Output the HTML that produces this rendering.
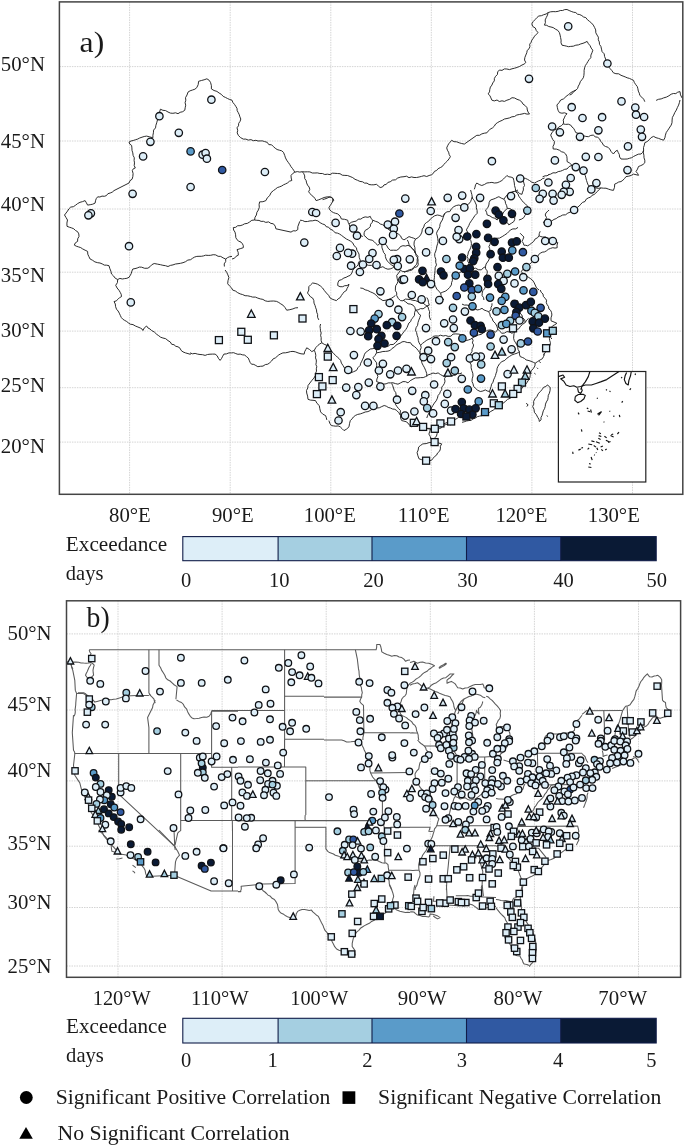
<!DOCTYPE html>
<html><head><meta charset="utf-8"><title>Figure</title>
<style>
html,body{margin:0;padding:0;background:#fff}
svg{display:block}
.t text{font-family:"Liberation Serif",serif;fill:#1a1a1a}
.b{fill:none;stroke:#222;stroke-width:0.95;stroke-linejoin:round}
.bb{fill:none;stroke:#5a5a5a;stroke-width:1.05;stroke-linejoin:round}
.m{stroke:#101216;stroke-width:1.3}
</style></head><body>
<svg width="685" height="1147" viewBox="0 0 685 1147">
<rect width="685" height="1147" fill="#fff"/>
<!-- panel a -->
<g stroke="#d4d4d4" stroke-width="1" stroke-dasharray="1.5 1" fill="none">
<line x1="129.6" y1="1.9" x2="129.6" y2="494.3"/>
<line x1="230.2" y1="1.9" x2="230.2" y2="494.3"/>
<line x1="330.8" y1="1.9" x2="330.8" y2="494.3"/>
<line x1="431.3" y1="1.9" x2="431.3" y2="494.3"/>
<line x1="531.9" y1="1.9" x2="531.9" y2="494.3"/>
<line x1="632.5" y1="1.9" x2="632.5" y2="494.3"/>
<line x1="59.4" y1="66.6" x2="682.8" y2="66.6"/>
<line x1="59.4" y1="141" x2="682.8" y2="141"/>
<line x1="59.4" y1="209" x2="682.8" y2="209"/>
<line x1="59.4" y1="272.2" x2="682.8" y2="272.2"/>
<line x1="59.4" y1="331.1" x2="682.8" y2="331.1"/>
<line x1="59.4" y1="387.7" x2="682.8" y2="387.7"/>
<line x1="59.4" y1="442.1" x2="682.8" y2="442.1"/>
</g>
<g class="t">
<text x="129.9" y="521.9" font-size="21" text-anchor="middle" textLength="41.8" lengthAdjust="spacingAndGlyphs">80°E</text>
<text x="232.8" y="521.9" font-size="21" text-anchor="middle" textLength="41.8" lengthAdjust="spacingAndGlyphs">90°E</text>
<text x="329.8" y="521.9" font-size="21" text-anchor="middle" textLength="52" lengthAdjust="spacingAndGlyphs">100°E</text>
<text x="423.7" y="521.9" font-size="21" text-anchor="middle" textLength="52" lengthAdjust="spacingAndGlyphs">110°E</text>
<text x="521.4" y="521.9" font-size="21" text-anchor="middle" textLength="52" lengthAdjust="spacingAndGlyphs">120°E</text>
<text x="613.8" y="521.9" font-size="21" text-anchor="middle" textLength="52" lengthAdjust="spacingAndGlyphs">130°E</text>
<text x="0.8" y="70.6" font-size="21" text-anchor="start" textLength="44.2" lengthAdjust="spacingAndGlyphs">50°N</text>
<text x="0.8" y="148.4" font-size="21" text-anchor="start" textLength="44.2" lengthAdjust="spacingAndGlyphs">45°N</text>
<text x="0.8" y="210.8" font-size="21" text-anchor="start" textLength="44.2" lengthAdjust="spacingAndGlyphs">40°N</text>
<text x="0.8" y="282.3" font-size="21" text-anchor="start" textLength="44.2" lengthAdjust="spacingAndGlyphs">35°N</text>
<text x="0.8" y="337.2" font-size="21" text-anchor="start" textLength="44.2" lengthAdjust="spacingAndGlyphs">30°N</text>
<text x="0.8" y="392.3" font-size="21" text-anchor="start" textLength="44.2" lengthAdjust="spacingAndGlyphs">25°N</text>
<text x="0.8" y="453.4" font-size="21" text-anchor="start" textLength="44.2" lengthAdjust="spacingAndGlyphs">20°N</text>
</g>
<g class="b">
<polyline points="68.8,208.9 70.7,207.1 73.4,206.7 75.6,205.2 77.6,203.6 80.0,202.3 82.6,201.6 85.1,200.6 86.4,202.8 87.6,205.1 90.2,204.7 92.7,204.2 95.1,203.1 95.5,200.8 96.2,198.7 97.7,196.8 99.9,197.0 102.0,196.1 104.3,196.3 106.4,195.6 107.9,193.7 110.2,193.0 112.3,192.1 114.0,190.6 129.0,183.0 130.0,180.7 132.1,179.2 132.8,176.7 133.1,173.6 132.3,170.5 133.4,168.7 135.3,168.0 134.2,165.6 134.5,162.9 134.1,160.4 134.3,157.8 133.1,155.4 132.8,152.9 132.0,150.4 131.9,147.9 131.6,145.4 129.8,144.1 129.0,142.1 131.0,141.0 133.2,140.5 135.3,139.8 137.6,139.1 139.7,138.0 142.0,137.2 144.2,136.5 146.6,136.1 149.8,136.9 152.9,137.8 152.9,135.3 153.4,132.8 153.6,130.1 155.5,127.9 155.9,125.3 156.7,122.8 160.4,109.2 162.9,110.3 165.6,110.6 168.0,112.0 170.4,113.1 172.9,113.3 175.6,112.8 178.0,113.7 180.2,112.3 182.7,111.7 184.8,110.2 185.2,107.7 185.7,105.2 185.1,102.7 185.8,100.2 185.5,97.7 187.0,95.0 188.0,92.1 190.1,90.8 192.5,90.0 194.9,89.2 196.8,87.6 198.2,84.6 198.6,81.3 201.4,80.5 204.1,79.8 206.9,78.8 209.2,80.3 210.6,82.6 211.4,85.7 211.4,88.9 214.0,90.5 216.9,91.4 219.1,93.0 221.4,94.4 223.2,96.4 225.4,97.4 227.5,98.5 229.7,99.5 232.0,100.2"/>
<polyline points="68.8,209.0 67.5,211.1 66.0,213.1 64.5,215.0 66.0,217.5 67.5,220.0 66.9,223.1 67.0,226.3 69.3,227.2 71.6,227.9 73.8,228.8 75.5,230.5 77.6,231.7 78.8,233.9 79.0,236.5 77.7,238.8 77.6,241.4 75.4,242.8 74.3,245.1 76.3,246.2 78.5,246.9 80.7,247.6 82.6,248.9 85.1,250.2 87.6,251.4 87.8,254.2 88.9,256.6 90.1,259.0 92.6,260.3 94.9,261.9 97.7,262.7 100.0,263.0 102.2,263.9 104.3,265.1 106.7,265.2 109.0,265.7 109.8,268.5 110.9,271.2 111.5,274.0 113.5,275.9 115.2,278.2 117.7,279.5"/>
<polyline points="117.7,279.5 119.9,278.4 122.3,279.0 124.6,278.6 126.9,278.3 129.0,277.3 130.3,275.4 131.3,273.3 131.9,271.1 132.8,269.0 135.0,268.6 137.2,268.0 139.3,267.1 141.6,267.2 144.7,268.3 147.9,268.2 150.0,266.7 151.8,264.7 154.2,263.5 157.3,264.1 160.4,264.7 162.9,265.3 165.5,265.7 168.0,266.5 170.4,265.4 173.0,264.9 175.5,264.0 178.0,263.7 180.5,263.3 183.0,262.7 185.5,261.7 187.8,260.1 190.6,259.7 192.5,258.3 194.5,257.1 196.8,256.4 199.0,256.3 201.3,256.3 203.5,255.9 205.6,255.2 208.2,255.4 210.7,255.3 213.2,254.7 215.7,254.9 218.1,256.3 220.7,256.4 223.1,257.9 225.7,259.0 227.6,257.6 229.6,256.7 232.0,256.4"/>
<polyline points="117.7,279.5 117.4,282.7 115.7,285.3 117.1,288.0 119.0,290.3 120.2,292.3 121.2,294.3 121.5,296.6 119.5,297.7 117.9,299.3 116.2,300.9 114.0,301.6 115.3,304.0 115.6,306.7 116.5,309.2 118.1,311.0 119.3,313.2 120.3,315.4 121.3,317.5 122.8,319.2 124.7,320.4 126.7,321.5 128.4,322.9 130.3,324.2 133.0,324.6 135.4,326.0 137.9,327.0 140.3,328.0 141.9,328.9 142.9,330.5 144.3,327.9 146.6,326.0 147.9,327.9 150.0,329.0 151.6,330.5 154.4,332.1 156.7,334.3 158.7,335.7 160.6,337.2 162.9,338.0 165.7,338.7 168.0,340.6 170.3,342.0 171.7,344.3 174.0,344.7 175.8,346.3 178.0,346.8 180.0,348.2 181.1,350.4 183.0,351.9 185.5,352.9 188.0,353.6 190.6,354.4"/>
<polyline points="225.7,259.0 225.7,261.5 224.2,263.9 224.4,266.5"/>
<polyline points="232.0,100.2 232.9,102.5 234.5,104.4 235.8,106.4 237.0,108.4 237.2,110.7 238.3,112.7 239.3,114.8 239.9,116.9 240.8,119.0 240.1,121.3 238.7,123.3 238.5,125.8 237.0,127.8 237.7,130.3 237.2,132.9 238.3,135.3 240.5,137.6 243.3,139.1 245.8,139.1 248.3,140.1 250.9,139.6 253.3,140.7 255.9,140.3 258.0,141.0 260.3,140.9 262.5,140.9 264.6,141.6 267.2,142.3 268.8,144.6 271.6,144.8 273.4,146.6 275.2,148.2 277.1,149.5 279.4,150.2 281.7,150.8 283.5,152.4 284.7,155.4 285.5,157.9 286.7,160.2 288.2,162.3 289.7,164.4 291.0,166.7 292.4,168.4 293.7,170.3 294.8,172.2"/>
<polyline points="294.8,172.2 297.3,171.6 299.8,172.1 302.3,171.7 304.8,171.9 307.4,171.8 309.9,171.9 312.3,173.0 314.9,173.0 317.4,172.9 319.9,173.5 322.4,173.5 324.8,174.5 327.4,174.2 330.0,174.6 332.4,173.2 334.9,173.3 337.4,173.5 340.0,173.7 342.3,175.2 344.9,175.4 347.5,175.5 350.1,176.5 352.7,177.6 355.0,179.3 357.5,180.3 359.9,181.4 362.6,181.8 364.6,183.1 367.0,183.1 369.0,184.5 371.3,184.8 373.9,184.8 376.4,184.3 378.3,185.9 380.1,187.5 382.5,187.0 384.0,184.9 386.3,184.4 387.9,182.4 390.2,181.8 392.5,180.1 395.5,179.8 397.7,178.0 400.8,177.0 404.0,176.7"/>
<polyline points="294.8,172.2 292.6,173.6 291.0,175.5 291.2,178.0 291.8,180.5 289.5,181.2 287.7,182.8 285.6,183.9 283.5,184.8 281.7,186.0 279.7,186.8 277.3,187.6 275.4,189.2 273.4,190.6 271.0,192.7 269.7,195.6 267.3,197.8 265.9,200.6 262.9,201.7 259.6,201.9 259.1,204.5 259.3,207.3 258.4,209.9"/>
<polyline points="302.3,171.7 303.8,173.7 304.7,175.9 304.7,178.5 306.1,180.5 306.6,182.9 307.5,185.1 309.1,187.0 309.8,189.3 308.6,191.8 310.1,193.6 311.6,195.4 313.6,196.8 315.0,198.6 316.1,200.6 318.7,199.8 321.1,198.8 324.1,197.5 327.4,196.8 330.1,196.9 332.4,198.1 332.8,200.0 332.4,201.9"/>
<polyline points="258.4,210.0 256.9,212.3 256.4,215.0 255.0,217.3 254.6,220.0 256.8,220.3 259.0,220.4 261.1,221.4 263.4,221.3 265.8,222.4 268.6,221.9 270.9,223.4 273.4,223.8 275.2,226.1 275.9,228.8 291.0,232.1 293.1,230.8 295.7,230.9 297.8,229.6 297.8,226.7 298.8,224.0 299.8,221.3"/>
<polyline points="254.6,220.0 251.8,220.3 249.6,222.0 247.3,223.4 244.6,223.8 242.4,225.0 240.1,225.7 237.7,225.7 235.7,227.3 233.3,227.6 233.6,230.0 235.0,232.1 235.6,234.8 235.8,237.6 237.0,239.7 238.8,241.2 241.0,242.1 242.5,243.9 243.3,245.7 243.3,247.7 240.2,248.7 237.0,249.7 238.2,252.3 238.3,255.2 236.1,256.3 234.4,258.3 232.0,259.0"/>
<polyline points="404.0,176.7 406.6,176.2 409.0,177.7 411.5,176.9 414.0,177.5 416.6,177.5 419.1,177.0 421.5,176.4 424.0,175.7 426.7,176.5 429.1,175.5 431.4,174.8 433.2,173.5 434.5,171.3 436.6,170.5 438.1,168.7 440.3,167.6 442.3,166.5 443.7,164.5 445.4,162.9 447.3,161.0 449.0,158.9 450.4,156.7 449.2,154.6 448.6,152.2 447.4,150.2 446.7,147.9 447.6,145.8 448.7,143.8 450.2,142.1 451.7,140.3 454.0,141.7 456.7,141.8 459.2,142.8 461.7,143.5 464.3,144.1 476.8,135.3 479.5,135.3 481.8,133.9 484.3,133.2 486.9,132.8 488.4,130.9 490.2,129.1 492.5,127.9 494.3,126.2 495.6,124.0 497.7,122.5 499.9,121.3 502.3,120.3 504.4,119.0 507.0,118.5 509.5,117.9 511.9,116.8 514.5,116.5 516.8,115.0 519.4,114.5 522.0,114.0 524.5,113.4 527.0,114.1 529.5,114.0 528.1,112.1 527.3,110.0 527.0,107.7 525.3,105.7 523.0,104.1 521.7,101.8 519.5,100.2 517.0,99.3 514.6,98.0 512.0,97.7 509.7,99.3 506.9,100.2 504.4,101.4 502.0,100.8 499.3,101.5 497.0,100.0 494.3,100.9 491.9,100.2 490.9,97.9 489.9,95.6 488.1,93.9 489.5,91.9 489.8,89.4 490.4,87.1 491.9,85.1 492.8,82.9 494.3,80.9 494.4,78.4 495.6,76.3 497.4,74.5 497.7,71.9 499.4,70.0 502.0,70.4 504.4,68.9 506.9,69.0 509.5,69.6 512.0,68.8 514.6,68.2 517.2,67.4 519.7,66.4 522.0,65.0 524.1,64.1 525.8,62.5 524.5,60.0"/>
<polyline points="576.0,90.1 573.7,91.6 572.1,93.8 569.7,95.1"/>
<polyline points="474.3,189.3 475.0,187.2 475.5,184.9 476.8,183.0 479.2,184.5 481.8,185.5 484.4,184.5 486.9,183.0 489.4,182.7 491.9,182.4 494.4,183.0 497.1,182.8 499.5,181.8 501.9,180.5 503.6,178.9 505.3,177.2 506.9,175.5 508.8,176.8 511.1,177.1 513.2,178.0 513.8,180.5 514.3,183.0 514.5,185.5 515.4,188.6 515.7,191.8 518.1,192.0 519.8,193.7 522.0,194.3 522.5,192.1 523.4,190.0 523.3,187.6 524.5,185.5 523.9,183.1 523.2,180.6 523.3,178.0 525.5,178.4 527.6,179.4 529.5,180.5 531.8,182.2 534.6,183.0 536.5,181.9 538.5,180.9 540.7,180.2 542.4,178.7 544.6,178.0"/>
<polyline points="515.7,191.8 517.9,193.6 518.8,196.2 520.4,198.4 522.0,200.6 523.5,202.4 525.4,203.9 527.0,205.6 528.1,207.9 529.5,209.9"/>
<polyline points="526.4,213.8 524.9,215.5 523.9,217.5 521.6,219.1 518.9,220.0"/>
<polyline points="520.1,233.2 522.0,235.1 523.9,237.0 523.0,239.2 522.0,241.4 523.3,243.1 523.9,245.2 525.8,245.3 527.7,245.8 529.6,244.6 531.4,243.3 533.7,241.4 535.2,238.9 537.5,237.8 539.0,235.7 539.3,233.5 540.2,231.3"/>
<polyline points="539.0,235.7 540.8,236.6 542.7,237.0 545.4,237.0 547.8,238.2 550.4,238.3 552.8,239.5 555.3,241.1 557.8,242.6 557.0,245.1 557.2,247.7 555.0,248.1 552.8,247.7 550.5,248.4 548.3,249.3 546.5,250.8 544.5,251.9 542.2,252.2 540.2,253.3 538.6,254.6 537.7,256.5 536.3,258.1 534.4,259.4 532.8,260.9 531.4,262.7 529.7,264.1 527.8,265.3 526.4,267.1 524.4,268.2 522.6,269.6 521.4,271.5 522.6,273.5 523.9,275.3 526.2,275.9 528.2,277.1 530.2,278.4 532.3,280.0 533.9,282.2 535.2,285.0"/>
<polyline points="576.0,210.6 573.3,211.4 570.5,212.0 567.8,213.1 565.6,214.8 562.7,215.0 560.3,216.3 558.1,217.1 556.2,218.6 554.0,219.4 552.1,220.7 550.3,221.9 547.9,223.3 545.2,223.8 543.4,222.6 545.2,220.2 546.5,217.5 545.2,215.0 546.0,212.8 547.8,211.3 549.0,210.0"/>
<polyline points="535.2,285.0 536.5,287.9 539.0,290.0"/>
<polyline points="422.8,443.9 426.1,443.6 429.1,442.6 431.6,442.4 434.1,441.4 436.6,441.3 438.9,443.1 441.7,443.9 440.4,446.2 440.4,448.9 439.6,451.2 437.6,452.9 436.6,455.1 434.6,456.5 433.1,458.3 431.6,460.2 429.4,460.7 427.5,461.9 425.3,462.7 423.6,460.9 421.5,459.6 419.1,458.9 417.9,455.8 417.1,452.6 418.2,450.0 418.6,447.1 420.6,445.4 422.8,443.9"/>
<polyline points="524.5,60.0 524.9,57.4 525.8,55.1 526.8,52.7 527.2,50.4 529.0,48.8 529.9,46.7 529.7,44.2 531.1,42.3 531.8,40.2 533.3,38.2 534.6,36.1 536.3,34.3 538.1,32.6 536.3,30.6 535.3,28.0 532.8,26.5 531.8,23.9 533.2,21.5 535.1,19.6 536.9,17.6 538.8,16.0 541.4,15.7 543.7,14.7 546.1,14.0 548.1,12.6 550.6,11.8 553.1,11.6 555.7,11.7 558.2,11.3 560.3,10.5 562.6,10.5 564.7,9.6 567.0,9.5 569.1,10.5 571.2,11.4 573.4,12.2 575.8,12.6 577.5,14.2 579.8,14.6 581.8,15.6 583.6,17.0 585.8,17.6 587.4,19.7 589.5,21.4 591.6,23.1 593.3,25.1 594.6,27.5 595.7,29.9 595.8,32.8 597.1,35.1 598.4,37.2 598.3,39.8 599.3,41.9 599.5,44.4 600.9,46.4 601.5,49.1 602.1,51.7 604.2,53.8 604.6,56.5 605.6,59.0 606.4,61.5 607.7,63.9 608.4,66.5 610.1,68.6 611.9,70.6 613.4,72.8 615.9,73.7 618.7,73.8 621.0,75.3 623.1,76.1 625.2,76.9 627.2,77.8 629.4,78.4 631.5,79.4 633.5,80.3 634.4,82.6 635.8,84.7 637.3,86.6 637.9,88.8 638.3,91.1 639.3,93.2 639.8,95.4 641.8,97.2 643.7,99.2 644.8,101.7"/>
<polyline points="656.1,100.4 658.5,99.3 661.2,98.9 663.6,97.9 666.4,97.1 668.9,95.8 671.2,94.2 673.4,93.5 675.8,93.6 677.7,92.2 680.0,91.6 680.5,94.9 682.0,97.9"/>
<polyline points="548.1,12.6 547.5,15.1 546.3,17.5 545.2,19.9 545.4,22.7 544.4,25.1 546.7,25.3 548.7,26.5 551.0,27.0 553.2,27.6 555.4,29.1 557.8,30.4 559.4,32.6 560.1,35.1 560.6,37.6 561.1,40.1 561.0,42.8 562.0,45.2 564.1,45.6 566.3,46.1 568.5,46.7 570.7,46.4 573.3,46.2 575.8,45.2 578.4,44.9 580.8,43.9 583.0,43.3 585.0,42.5 587.1,41.4 588.4,43.7 590.1,45.7 591.2,48.1 592.8,50.2 592.0,52.7 590.9,55.1 590.8,57.7 589.2,59.5 587.9,61.5 586.7,63.6 585.4,65.5 584.6,67.8 584.1,70.3 584.1,72.8 583.9,75.4 583.3,77.8 581.8,79.8 580.3,81.7 579.5,84.1 578.3,86.1 577.6,88.4 576.0,90.1"/>
<polyline points="328.9,420.6 329.8,423.3 331.4,425.6 333.6,425.9 335.8,426.2 338.1,425.9 340.2,426.8 342.1,428.7 344.0,430.6 346.7,429.0 349.0,426.8 349.5,423.7 350.3,420.6"/>
<polyline points="362.8,413.0 365.3,412.0 367.9,411.6 370.3,410.5 372.2,409.1 374.5,408.8 376.6,408.0 379.3,407.8 381.7,406.6 384.2,405.5 386.3,406.2 388.2,407.4 390.4,408.0 392.5,409.0 394.8,409.3 396.7,410.5 398.9,412.8 400.5,415.5 400.6,418.2 401.7,420.6 403.9,421.1 406.1,421.7 408.0,423.1 409.6,425.3 411.8,426.8"/>
<polyline points="362.8,359.0 363.7,357.0 364.3,354.8 365.3,352.8 367.8,350.9 370.3,349.0 372.9,348.7 375.4,347.7"/>
<polyline points="375.4,347.7 376.4,350.1 376.6,352.8 379.8,352.3 382.9,351.5 385.5,351.4 388.0,351.1 390.4,350.3 392.1,348.4 394.3,347.2 395.8,345.3 398.0,344.0 400.1,343.2 402.0,341.9 404.2,341.5 407.3,342.5 410.5,342.7 412.0,345.0 414.3,346.5 416.3,348.2 418.0,350.3 419.6,352.6 420.6,355.3"/>
<polyline points="375.4,347.7 378.3,346.4 380.4,344.0 382.8,345.1 385.3,346.1 387.9,346.5 390.1,344.6 393.2,344.5 395.4,342.7 397.3,340.7 398.6,338.4 400.5,336.4 402.3,333.9 404.2,331.4 405.8,329.5 407.1,327.4 408.0,325.1 408.9,323.0 410.7,321.5 411.4,319.2 413.0,317.6 414.5,315.3 414.6,312.6 415.5,310.1 414.8,307.3 413.0,305.1 410.6,304.1 408.0,303.8 405.6,301.8 403.0,300.0"/>
<polyline points="376.6,352.8 375.0,355.5 372.9,357.8 374.7,360.3 376.6,362.8 376.7,365.4 376.3,367.9 375.4,370.3 375.9,372.5 377.2,374.5 377.9,376.6 376.9,379.0 376.6,381.6 379.3,382.6 381.6,384.2 383.9,384.1 386.1,383.8 388.2,382.9 390.4,382.9 393.0,382.8 395.5,383.6 398.0,384.2 400.5,382.9 403.0,381.6 405.6,381.7 408.0,382.9 410.2,380.7 413.0,379.1 415.4,377.9 418.0,377.9 420.6,377.6 423.2,377.6 425.6,376.6 427.9,375.0 430.6,374.1 433.0,373.0 435.7,373.6 438.1,372.9 440.4,374.5 442.9,375.9 445.7,376.6 448.2,376.4 450.6,375.6 453.2,375.4 455.5,375.2 457.4,373.6 459.9,373.7 462.0,372.9"/>
<polyline points="420.6,355.3 421.5,357.7 421.5,360.3 421.8,362.8 423.1,365.3 424.5,367.8 425.6,370.3 426.7,373.4 426.8,376.6"/>
<polyline points="415.5,310.1 417.5,311.5 418.6,313.7 420.6,315.1 419.8,317.6 418.8,320.1 418.0,322.6 417.6,325.3 416.1,327.6 415.5,330.2 416.6,332.6 417.1,335.2 418.0,337.7 418.3,340.4 419.1,342.9 420.6,345.2 421.2,347.7 420.1,350.3 420.1,352.8 420.6,355.3"/>
<polyline points="420.6,345.2 422.5,343.4 424.6,341.8 426.8,340.2 429.0,339.1 431.3,338.2 433.1,336.4 435.6,335.9 438.2,336.1 440.6,335.2 443.1,336.0 445.7,335.5 448.2,336.4 450.9,336.2 453.0,334.1 455.7,333.9 458.9,334.1 462.0,335.2"/>
<polyline points="415.5,310.1 418.1,309.9 420.5,308.6 423.1,308.8 425.1,307.4 427.0,305.9 429.3,305.1 428.5,302.6 428.1,299.9 426.8,297.5"/>
<polyline points="445.7,376.6 444.5,378.7 445.0,381.2 444.4,383.4 443.2,385.4 441.7,387.2 441.7,389.7 440.4,391.6 439.6,393.7 438.1,395.4 437.4,398.2 436.2,400.8 434.4,403.0 432.9,405.4 431.5,407.8 430.6,410.5 429.1,412.9 427.7,415.3 426.8,418.0"/>
<polyline points="411.8,426.8 413.8,425.1 415.5,423.1 418.1,424.2 420.5,425.7 423.1,426.8 425.4,428.3 428.0,428.7 430.6,429.3 432.9,427.8 435.3,426.3 438.1,425.6 440.8,425.3 443.2,424.0 445.7,423.1 448.1,422.0 450.7,421.5 453.2,420.6 455.4,419.4 457.6,418.1 459.5,416.3 462.0,415.5"/>
<polyline points="391.7,383.4 392.7,385.7 393.5,388.0 394.2,390.4 395.8,392.7 396.2,395.7 398.0,398.0 397.2,400.1 396.1,402.1 395.4,404.2 396.9,406.5 398.5,408.6 400.5,410.5 400.2,413.0 400.5,415.5"/>
<polyline points="540.2,290.0 541.2,292.3 543.0,294.0 543.4,296.6 545.2,298.3 546.5,300.2 546.3,302.7 547.2,304.7 548.5,306.6 548.9,308.9 550.8,310.6 551.6,312.7 551.9,315.0 551.0,317.8 551.0,320.8 554.0,322.0 556.9,323.3 554.9,324.7 552.7,325.8 550.8,328.0 550.2,330.8 550.6,333.3 549.6,335.8 549.4,338.3 549.7,340.5 550.4,342.6 550.2,344.9 548.7,347.5 546.9,349.9 545.5,352.0 544.2,354.1 543.5,356.6 542.4,358.7 540.2,359.9 537.7,361.5 535.2,363.2 534.9,365.9 533.6,368.2 531.5,370.5 530.2,373.2 530.2,375.6 529.8,377.8 528.6,379.9 527.0,382.5 525.2,384.9 523.3,386.3 522.1,388.4 520.2,389.9 518.9,391.9 516.6,392.9 515.3,394.8 512.5,396.1 510.3,398.2 507.5,399.4 505.3,401.5 502.9,403.4 500.3,404.8 497.8,406.6 495.3,408.2 493.3,410.1 490.8,411.4 488.6,413.1 486.5,414.2 484.3,415.0 482.0,415.6 479.6,416.1 477.3,416.7 475.3,418.1 473.1,418.9 471.1,420.3 468.7,420.6 466.4,421.0 464.2,421.8 462.0,422.3"/>
<polyline points="515.3,331.6 514.0,333.7 513.8,336.0 513.6,338.3 514.3,340.7 515.6,342.8 516.9,344.9 517.7,347.2 518.1,349.6 519.4,351.6 519.4,354.1 520.2,356.6 522.3,357.4 524.4,358.4 526.1,359.9 529.0,360.6 531.9,361.6 533.5,362.4 535.2,363.2"/>
<polyline points="519.4,351.6 517.1,353.2 514.5,354.0 511.9,354.9 509.4,356.5 506.9,358.2 504.8,360.4 501.9,361.6 499.5,363.8 497.8,366.6 497.0,368.7 496.9,371.1 496.1,373.2 495.5,375.5 494.6,377.7 493.6,379.9 493.0,382.2 491.6,384.2 491.1,386.5 490.3,389.0 489.5,391.5 490.7,394.0 492.0,396.5"/>
<polyline points="515.3,331.6 516.6,329.6 519.0,328.7 520.2,326.6 522.6,324.3 525.2,322.5 526.7,320.2 528.6,318.3"/>
<polyline points="472.0,338.3 473.1,340.3 472.4,342.9 473.6,344.9 473.1,347.1 472.0,349.2 472.0,351.6 470.6,353.6 469.7,355.8 469.5,358.2 469.6,360.6 470.0,362.8 471.2,364.9 471.1,367.8 471.8,370.5 472.8,373.2 473.0,376.0 472.2,378.8 472.0,381.5 473.0,383.8 473.6,386.3 475.3,388.2 477.6,390.2 480.3,391.5 482.9,391.0 485.3,389.9 487.3,391.0 489.5,391.5"/>
<polyline points="462.0,339.9 464.2,339.7 466.4,340.5 468.7,339.9 470.4,339.3 472.0,338.3 474.1,337.0 476.4,336.0 478.6,334.9 481.2,334.4 483.1,332.8 485.3,331.6 487.6,330.3 490.3,329.9 493.0,330.7 495.3,332.4 496.7,330.9 497.8,329.1"/>
<polyline points="497.8,329.1 499.8,331.3 501.9,333.3 504.6,333.0 506.9,331.6 509.6,332.0 511.9,333.3 513.5,332.3 515.3,331.6"/>
<polyline points="497.8,329.1 496.8,326.1 495.3,323.3 493.1,321.1 492.0,318.3 490.3,316.3 489.8,313.8 488.6,311.6 486.3,310.8 483.9,309.9 482.0,308.3 479.6,309.5 477.0,310.0 474.6,308.2 472.0,306.6 469.5,305.8 467.0,305.0 464.4,305.1 462.0,304.1"/>
<polyline points="516.9,300.0 518.3,302.0 518.1,304.6 519.4,306.6 518.0,309.0 516.9,311.6 519.7,312.9 521.9,315.0 522.6,317.7 524.7,319.7 525.2,322.5"/>
<polyline points="492.0,303.3 491.9,305.6 490.9,307.7 491.1,310.0 488.6,311.6"/>
<polyline points="547.7,384.9 548.7,386.3 550.2,387.4 550.1,390.3 549.4,393.2 548.3,395.3 548.1,397.6 547.7,399.8 546.4,401.9 545.5,404.1 545.2,406.5 544.5,408.7 543.3,410.8 542.7,413.1 542.1,415.4 541.0,417.4 541.0,419.8 539.4,421.5 538.9,419.2 537.7,417.3 536.3,414.6 534.4,412.3 534.0,409.3 532.7,406.5 533.8,404.1 533.6,401.5 534.9,398.8 536.9,396.5 538.2,393.8 540.2,391.5 542.1,389.7 543.5,387.4 545.8,386.4 547.7,384.9"/>
<polyline points="404.0,239.9 406.5,238.3 409.0,236.6 411.2,237.4 413.5,238.1 415.6,239.1 418.5,237.4 420.6,234.9 421.9,232.1 422.3,229.1 423.8,227.0 424.5,224.3 426.5,222.5 428.7,221.2 430.3,219.1 432.3,217.5 434.6,215.8 437.3,215.0 439.9,215.5 442.3,216.6 443.7,215.1 444.8,213.3 447.0,211.8 449.8,211.6 451.4,208.8 453.9,206.6 456.3,205.5 458.9,205.0 461.1,205.8 463.3,205.9 465.6,205.8 468.5,204.2 470.6,201.6 471.5,199.2 472.2,196.7 471.8,194.4 471.2,192.2 470.6,190.0"/>
<polyline points="444.8,213.3 443.9,215.5 443.1,217.7 442.3,220.0 441.0,222.0 440.0,224.2 439.8,226.6 438.8,228.9 437.4,231.0 436.5,233.3 437.3,236.0 437.8,238.8 438.1,241.6 437.6,243.8 436.9,246.0 436.5,248.2 435.8,251.0 434.7,253.7 434.8,256.6 435.8,259.2 435.7,262.2 436.5,264.9 435.2,267.5 435.0,270.4 434.8,273.2 434.4,275.4 434.4,277.7 434.0,279.9 434.6,282.1 434.5,284.5 435.6,286.5 436.8,289.1 438.8,291.1 440.6,293.2 441.2,295.7 442.3,298.0 443.9,300.0"/>
<polyline points="472.2,196.7 472.8,199.0 474.5,200.7 475.4,202.9 476.4,205.0 476.3,207.8 477.1,210.5 477.2,213.3 474.9,215.6 473.1,218.3 471.4,220.8 469.7,223.3 468.8,225.6 467.6,227.7 466.4,229.9 467.5,232.0 467.7,234.3 468.1,236.6 469.3,238.8 470.9,240.7 471.4,243.3 471.3,245.6 470.6,247.8 469.7,249.9 468.4,252.0 468.0,254.3 467.2,256.6 468.1,258.7 467.7,261.2 468.9,263.2 468.0,265.9 466.4,268.2"/>
<polyline points="440.6,293.2 442.8,292.1 445.2,291.3 447.3,289.9 449.6,287.5 451.4,284.9 451.6,282.6 452.4,280.5 452.3,278.2 454.5,276.5 456.9,275.1 458.9,273.2 460.8,272.0 463.0,271.3 464.7,269.7 466.4,268.2"/>
<polyline points="466.4,268.2 468.7,268.5 470.6,269.9 472.9,268.6 475.6,268.2 478.3,269.7 481.4,269.9 483.2,267.9 485.5,266.6 486.1,264.0 487.5,262.0 488.9,259.9 489.4,257.7 490.6,255.6 490.5,253.2 489.8,251.1 489.7,248.7 488.9,246.6 490.1,244.2 490.5,241.6 492.2,240.0 494.5,239.5 496.4,238.3 499.5,238.1 502.2,236.6 504.7,235.0 507.2,233.3 508.9,231.6 510.5,229.9 512.9,228.9 515.7,228.9 518.0,227.4"/>
<polyline points="485.5,210.0 487.8,207.8 488.9,205.0 489.2,202.3 490.5,200.0 493.1,199.2 495.5,198.3 497.1,197.4 498.9,196.7 501.2,198.1 503.9,199.2 505.2,201.0 505.5,203.3 506.7,205.7 507.2,208.3 505.7,210.2 503.9,211.6 502.6,214.1 501.4,216.6 499.0,218.0 497.2,220.0 494.9,218.3 492.2,217.5 489.9,215.9 487.2,215.0 486.6,212.4 485.5,210.0"/>
<polyline points="507.2,208.3 509.9,208.6 512.2,210.0 514.0,212.4 515.5,215.0 514.7,217.1 514.7,219.5 513.8,221.6 511.3,223.3 508.8,224.9 507.6,222.9 505.5,221.6 503.0,219.5 501.4,216.6"/>
<polyline points="485.5,266.6 485.6,268.9 487.2,270.9 487.2,273.2 486.2,275.5 484.5,277.4 483.9,279.9 484.8,282.0 485.0,284.3 485.5,286.5 484.5,288.8 482.8,290.7 482.2,293.2 482.1,295.6 483.6,297.7 483.9,300.0"/>
<polyline points="407.3,239.9 408.4,242.1 409.1,244.6 410.7,246.6 412.3,248.8 414.3,250.8 415.6,253.2 416.1,255.6 417.5,257.6 418.1,259.9 417.9,262.1 418.3,264.4 417.3,266.6 414.4,267.6 412.3,269.9 409.8,270.5 407.3,271.5 405.5,271.4 404.0,272.4"/>
<polyline points="415.6,239.1 414.2,241.8 414.0,244.9 414.9,247.6 415.0,250.5 415.6,253.2"/>
<polyline points="503.9,199.2 505.4,197.0 507.2,195.0 509.9,193.6 512.2,191.7 515.2,191.3 518.0,190.0"/>
<polyline points="225.1,270.0 226.7,272.3 227.9,274.9 228.9,277.5 228.0,280.6 227.7,283.8 229.4,285.8 231.4,287.7 232.7,290.1 235.4,291.0 237.7,292.7 240.2,293.9 242.7,294.6 245.1,295.7 247.7,295.8 250.3,296.4 252.7,297.1 255.4,297.1 257.8,298.1 260.3,298.9 262.9,299.4 265.2,300.8 267.8,301.4 270.8,301.1 273.7,301.0 276.6,301.4 278.8,302.5 280.8,303.9 282.9,305.1 285.0,307.5 286.7,310.2 289.8,309.7 292.9,308.9 295.3,307.9 298.0,307.7"/>
<polyline points="320.6,324.0 320.0,326.2 320.3,328.5 320.5,330.8 321.2,333.0 320.6,335.3 321.2,337.7 321.1,340.3 321.8,342.8 319.8,343.9 318.0,345.3 315.8,347.6 314.3,350.3"/>
<polyline points="190.0,352.9 192.4,353.8 195.1,353.4 197.5,354.1 200.0,354.5 202.6,354.7 205.1,355.4 207.5,354.5 210.0,354.2 212.6,354.1 215.1,354.1 217.2,355.8 218.4,358.3 220.1,360.4 221.6,358.4 222.7,356.2 223.9,354.1 226.4,353.9 228.9,352.9 231.4,352.9 233.7,352.7 235.8,353.6 237.9,354.3 240.2,354.1 242.3,354.8 244.7,355.1 246.5,356.6 248.3,358.1 249.2,360.2 250.1,362.4 251.5,364.2 253.8,364.4 255.8,365.5 257.8,366.7 260.4,366.3 263.0,366.1 265.3,364.6 267.8,364.2 269.8,362.7 271.6,361.0 273.1,358.9 275.4,357.9 277.1,356.4 278.8,354.9 280.8,353.8 282.9,352.9 285.5,352.8 288.0,352.3 290.4,351.6 293.0,351.4 295.5,351.9 298.0,352.9 301.0,353.8 304.2,354.1 304.6,351.8 305.7,349.8 306.7,347.8 309.5,349.5 311.8,351.6 314.3,350.3"/>
<polyline points="314.3,350.3 315.3,352.7 315.8,355.3 315.5,357.9 316.3,360.0 316.3,362.2 315.9,364.5 316.8,366.7 316.3,368.8 316.5,371.1 315.6,373.2 315.5,375.4 313.9,378.1 311.8,380.5 309.9,383.0 308.0,385.5 307.8,388.0 306.5,390.4 306.7,393.0 307.6,396.1 308.0,399.3 310.4,400.1 313.0,400.3 315.5,400.6 317.0,403.4 319.3,405.6 319.8,408.7 320.6,411.9 322.8,414.2 325.6,415.6 326.3,417.7 326.8,419.9"/>
<polyline points="321.8,342.8 324.2,344.3 326.8,345.3 328.6,347.9 330.6,350.3 332.2,352.0 333.9,353.8 335.6,355.4 337.3,357.1 339.1,358.6 340.6,360.4 341.4,363.1 343.0,365.5 344.4,367.9 346.5,369.6 349.0,370.8 350.7,372.9 353.6,371.7 356.5,370.4 358.0,367.6 360.2,365.4 360.7,363.2 361.8,361.2 362.7,359.1"/>
<polyline points="350.3,420.6 352.0,418.9 353.4,417.0 355.3,415.5 357.7,414.4 360.3,413.9 362.8,413.0"/>
<polyline points="322.6,199.6 324.8,199.0 327.0,198.2 329.0,197.2 331.4,197.1 332.8,198.5 333.9,200.1 332.5,201.9 331.3,203.9 330.1,205.7 328.9,207.7 329.7,209.8 331.4,211.4 333.4,212.6 335.5,213.3 337.7,213.9 340.1,216.1 341.4,219.0 344.6,219.3 347.7,220.2 348.1,222.2 349.0,224.0"/>
<polyline points="349.0,224.0 351.3,222.3 354.0,221.5 356.4,221.1 358.2,219.1 360.8,219.1 362.8,217.7 365.2,216.9 367.9,217.3 370.3,216.4 371.1,218.6 372.8,220.2 372.2,222.4 370.6,224.2 370.3,226.5 368.1,228.8 365.3,230.3 364.2,232.6 364.0,235.3 366.0,237.0 367.8,239.0 369.9,239.8 372.2,240.2 374.1,241.6 375.8,243.5 377.8,245.3 379.5,243.8 381.6,242.8 381.8,245.4 382.0,247.9 382.9,250.3 383.6,252.5 385.2,254.3 385.4,256.6 386.1,259.0 387.4,261.1 389.1,262.9 391.5,264.9 394.2,266.7 395.3,265.3 396.7,264.2"/>
<polyline points="349.0,224.0 349.7,226.1 350.1,228.4 351.5,230.3 353.6,231.5 355.5,233.1 357.7,234.0 360.2,235.4 362.8,236.5"/>
<polyline points="300.0,220.2 302.5,220.5 304.9,221.6 307.5,221.5 310.0,220.9 312.6,220.8 315.1,220.2 317.9,220.9 320.1,222.7 322.6,224.0 324.8,224.7 326.2,226.7 328.6,227.2 330.1,229.0 333.0,230.4 335.1,232.8 337.4,233.1 339.5,234.0 341.4,235.3 343.9,237.2 346.4,239.0 348.6,240.1 350.8,241.3 352.7,242.8 354.1,245.7 356.5,247.8 356.8,250.1 358.0,252.1 359.0,254.1 359.2,257.3 360.3,260.4 358.6,262.2 358.1,264.8 356.5,266.7 354.3,268.2 352.7,270.4 351.8,273.1 350.2,275.4 348.1,276.2 346.1,277.3 343.9,278.0 341.6,279.6 338.9,280.5 337.9,282.9 337.7,285.5 340.0,286.7 342.7,286.7 344.7,285.7 347.1,285.6 349.0,284.2 348.3,286.4 347.1,288.3 346.4,290.5 344.3,291.7 342.8,293.6 341.4,295.5 340.2,297.6 338.1,298.9 336.4,300.6 334.2,299.9 332.1,299.1 330.1,298.0 328.6,295.3 326.4,293.0 324.4,290.6 322.6,288.0 320.3,285.9 317.6,284.2 315.1,283.4 312.6,283.0 310.7,284.8 308.8,286.7 308.8,290.0 307.5,293.0 309.0,294.9 310.5,296.8 312.6,298.0 313.8,300.4 314.0,303.1 315.1,305.6 315.7,307.8 316.5,309.9 316.7,312.2 317.6,314.4 317.6,317.3 318.8,319.9"/>
<polyline points="381.6,242.8 384.4,243.5 386.6,245.3 388.1,248.2 390.4,250.3 393.5,250.2 396.7,250.3 398.9,248.8 400.4,246.6 402.9,245.7 405.5,246.0 408.0,245.3 410.4,246.6 412.3,248.5 414.2,250.3 414.9,252.8 416.6,254.6 418.0,256.6 417.2,259.1 417.2,261.6 416.7,264.2 415.1,265.9 413.4,267.5 411.7,269.2 409.5,269.7 407.4,270.6 405.4,271.7 402.8,271.5 400.4,270.4 398.6,273.0 396.7,275.4 397.2,278.6 397.9,281.7 397.0,283.8 395.7,285.7 395.4,288.0 395.4,290.6 396.7,292.9 396.7,295.5"/>
<polyline points="372.8,220.2 375.4,221.3 378.1,222.2 380.3,224.0 382.6,224.7 384.4,226.0 386.2,227.4 387.9,229.0 389.9,230.3 392.2,231.1 394.3,232.2 396.7,232.8 398.7,234.3 400.6,235.9 401.7,238.5 403.9,239.8"/>
<polyline points="396.7,295.5 398.2,298.3 400.4,300.6 403.0,300.8 405.3,299.1 408.0,299.3 410.5,299.6 412.9,300.3 415.5,300.6 417.9,301.7 420.3,302.8 423.0,303.1 425.5,305.0 428.0,306.8 428.6,309.3 429.6,311.7 429.3,314.4 429.5,317.2 430.6,319.9"/>
<polyline points="360.3,260.4 362.4,262.8 365.3,264.2 368.3,265.3 371.6,265.4 373.5,266.9 375.9,267.7 377.8,269.2 380.2,267.6 382.9,266.7 385.2,268.3 387.9,269.2 390.2,268.9 392.3,268.1 394.2,266.7"/>
<polyline points="360.3,288.0 362.9,288.4 365.2,289.8 367.8,290.5 370.3,291.8 372.9,292.9 375.3,294.3 376.9,296.2 378.7,297.9 380.8,299.2 382.9,300.6 386.0,300.2 389.1,299.3 391.4,298.3 393.4,297.0 395.4,295.5"/>
<polyline points="430.8,428.4 429.8,431.2 428.9,434.1 430.2,436.3 430.8,438.8 432.6,439.7 434.6,439.8 435.1,437.6 436.5,436.0 437.2,433.2 437.4,430.3"/>
<polyline points="414.7,424.6 417.6,425.4 420.4,426.5 422.9,427.2 425.4,428.0 428.0,428.4 430.8,428.4"/>
<polyline points="437.4,430.3 439.3,428.7 441.7,427.6 443.1,425.5 445.4,424.7 447.8,423.9 450.4,424.8 452.6,423.7"/>
<polyline points="680.0,100.0 679.4,102.6 678.6,105.1 677.4,107.5 676.3,110.1 674.8,112.5 673.7,115.1 672.4,117.4 672.1,120.0 672.0,122.7 671.2,125.1 669.9,127.0 668.7,128.9 667.4,130.8 666.2,132.6 665.4,135.2 664.9,137.8 663.6,140.2 661.1,139.4 658.6,138.4 656.0,137.7 653.6,136.4 651.1,137.6 649.3,139.7 647.3,141.5 644.8,142.7 644.3,145.2 643.5,147.6 643.6,150.2 643.4,152.8 643.9,155.3 644.0,157.8 644.8,160.2 644.8,162.8 643.0,164.5 640.8,165.6 638.5,166.5 637.5,169.1 636.0,171.6 637.5,173.3 638.5,175.3 636.0,174.7 633.5,174.1 631.2,175.4 628.7,176.2 626.0,176.6 624.6,178.5 622.9,180.2 621.0,181.6 618.7,182.0 616.8,183.2 614.7,184.1 614.5,187.3 613.4,190.4 610.9,189.9 608.4,189.1 606.0,188.2 603.4,188.2 600.9,187.9 599.1,189.5 597.6,191.3 595.9,192.9 594.2,194.5 592.0,195.3 590.5,197.2 588.3,197.9 586.2,199.2 585.0,201.5 582.5,202.4 580.8,204.2 579.2,206.0 577.3,207.4 575.8,209.2"/>
<polyline points="563.2,123.9 565.7,124.4 568.3,124.2 570.7,125.1 572.0,127.0 573.8,128.5 574.8,130.6 575.8,132.6 578.3,133.4 580.9,134.2 583.2,135.7 585.8,136.4 588.4,136.7 590.8,135.4 593.3,135.1 595.2,136.8 597.7,137.3 599.6,138.9 600.6,141.2 602.3,143.0 603.4,145.2 605.5,146.5 607.9,147.2 609.7,149.0 611.2,151.7 613.4,154.0 615.0,151.8 617.2,150.2 618.2,152.4 619.3,154.5 619.6,157.0 621.0,159.0 624.1,159.1 627.2,159.0 629.4,158.3 631.6,157.7 633.5,156.5 635.9,155.3 638.3,154.2 641.0,154.0 642.7,152.4 643.6,150.2"/>
<polyline points="560.7,100.0 559.0,102.7 556.9,105.0 557.4,107.7 558.0,110.2 559.4,112.6 561.9,113.2 564.6,112.8 567.0,113.8 565.3,115.6 564.3,117.9 563.2,120.1 563.6,122.0 563.2,123.9"/>
<polyline points="563.2,123.9 561.3,125.8 558.8,127.0 556.9,129.0 554.4,130.1 552.1,132.3 550.7,135.1 551.7,137.4 552.8,139.6 554.4,141.4 554.2,144.0 553.0,146.4 553.2,149.0 556.4,149.1 559.4,150.2 561.4,151.7 563.8,152.4 565.7,154.0 566.8,156.4 567.1,158.9 567.0,161.5 569.7,163.1 572.0,165.3"/>
<polyline points="572.0,165.3 574.3,166.9 577.0,167.8 579.2,168.9 581.2,170.3 583.3,171.6 584.0,173.7 585.3,175.6 585.8,177.8 586.5,180.4 587.3,182.9 588.3,185.4 590.6,187.1 593.3,187.9 595.9,187.9 598.4,188.4 600.9,187.9"/>
<polyline points="572.0,165.3 569.1,166.6 567.0,169.0 564.7,169.3 562.6,170.4 560.5,171.2 558.2,171.6 555.9,172.9 553.0,172.8 550.7,174.1 548.1,174.8"/>
<polyline points="548.7,174.8 547.0,175.8 545.1,175.8 542.6,176.8"/>
<polyline points="576.0,90.1 573.5,91.2 571.0,92.5 568.5,94.6 566.0,96.5 563.7,98.8 560.7,100.0"/>
<polyline points="550.7,337.5 551.9,339.0"/>
<polyline points="548.1,345.1 549.7,345.6"/>
<polyline points="543.1,353.9 544.6,355.1"/>
<polyline points="539.4,361.4 540.6,362.9"/>
<polyline points="536.9,367.7 538.1,368.9"/>
<polyline points="534.3,373.2 535.6,374.2"/>
<polyline points="526.1,403.3 528.1,404.8 526.8,406.6"/>
<polyline points="546.9,415.4 547.6,416.6"/>
</g>
<rect x="558.4" y="371.5" width="87.4" height="110.5" fill="#fff" stroke="#222" stroke-width="1.2"/>
<g class="b" style="stroke:#111;stroke-width:1.15">
<polyline points="558.4,376.6 563.0,375.0 564.6,377.3 560.7,378.9 563.8,381.2 566.1,385.0 569.9,386.5 573.8,385.8 576.8,387.3 580.7,386.5 585.3,385.0 591.4,385.0 596.0,383.5 600.6,381.9 606.7,379.6 611.3,376.6 615.9,373.5 619.0,371.5"/>
<polyline points="589.9,371.5 588.3,376.6 585.3,381.9 582.2,385.8 580.7,389.6"/>
<polyline points="575.3,396.5 578.4,394.5 583.0,394.2 585.3,395.4 584.0,398.8 580.7,401.5 577.6,402.6 574.8,400.3 575.3,396.5"/>
<polyline points="577.6,388.1 578.4,391.9 580.7,393.4 582.2,390.4 581.4,388.1"/>
<polyline points="626.6,372.4 625.1,375.8 624.3,379.6 625.9,383.5 628.2,385.0 628.9,380.4 630.5,375.8 631.2,372.0"/>
<polyline points="605.9,389.6 607.0,390.2"/>
<polyline points="609.5,391.1 610.5,391.7"/>
<polyline points="596.8,398.0 597.8,398.5"/>
<polyline points="621.7,402.6 622.7,401.1"/>
<polyline points="629.7,389.9 630.9,388.4"/>
<polyline points="621.3,378.1 622.0,377.0"/>
<polyline points="635.1,375.0 635.5,373.5"/>
<polyline points="586.8,408.0 588.3,408.8"/>
<polyline points="587.6,411.0 590.2,411.8"/>
<polyline points="590.6,409.5 591.4,412.6"/>
<polyline points="597.5,414.1 601.3,411.8 599.0,414.9 597.5,414.1"/>
<polyline points="578.1,412.6 579.1,414.4"/>
<polyline points="609.5,411.0 610.2,411.5"/>
<polyline points="613.2,416.0 614.4,416.4"/>
<polyline points="619.3,414.9 619.9,417.2"/>
<polyline points="603.6,421.8 604.4,422.2"/>
<polyline points="581.4,429.4 581.9,431.7"/>
<polyline points="599.0,432.8 600.9,433.7"/>
<polyline points="598.7,435.6 601.3,436.5"/>
<polyline points="598.3,438.3 600.6,439.4"/>
<polyline points="596.0,441.7 599.8,443.2"/>
<polyline points="604.4,436.3 606.7,437.9"/>
<polyline points="605.9,440.2 609.0,441.7"/>
<polyline points="608.2,442.5 610.5,441.4"/>
<polyline points="610.5,435.6 613.6,437.1"/>
<polyline points="611.3,434.8 613.2,434.0"/>
<polyline points="617.4,434.0 619.0,432.2"/>
<polyline points="591.4,440.9 594.5,441.7"/>
<polyline points="588.3,444.0 592.2,444.8"/>
<polyline points="587.6,449.4 589.1,447.8"/>
<polyline points="593.7,445.5 596.0,447.1"/>
<polyline points="596.8,447.8 597.8,450.1"/>
<polyline points="600.6,447.1 602.9,446.0"/>
<polyline points="601.3,449.4 602.9,450.9"/>
<polyline points="605.2,450.1 606.7,449.1"/>
<polyline points="578.4,450.1 580.7,449.1"/>
<polyline points="581.4,448.1 583.0,447.5"/>
<polyline points="572.7,451.7 573.0,454.0"/>
<polyline points="591.1,457.0 592.2,460.1"/>
<polyline points="589.1,463.5 590.6,464.1"/>
<polyline points="588.3,467.0 591.4,467.5"/>
<polyline points="594.1,454.7 594.8,455.2"/>
<polyline points="596.0,452.4 596.4,452.9"/>
</g>
<g class="m">
<circle cx="211.4" cy="99.7" r="3.7" fill="#ddeef8"/>
<circle cx="159.4" cy="116.2" r="3.7" fill="#ddeef8"/>
<circle cx="178.8" cy="132.8" r="3.7" fill="#ddeef8"/>
<circle cx="150.4" cy="141.8" r="3.7" fill="#ddeef8"/>
<circle cx="143.1" cy="156.4" r="3.7" fill="#ddeef8"/>
<circle cx="190.6" cy="151.4" r="3.7" fill="#5a9bc9"/>
<circle cx="202.6" cy="154.7" r="3.7" fill="#ddeef8"/>
<circle cx="205.6" cy="153.1" r="3.7" fill="#ddeef8"/>
<circle cx="206.9" cy="158.7" r="3.7" fill="#ddeef8"/>
<circle cx="222.2" cy="170.0" r="3.7" fill="#3059a2"/>
<circle cx="190.6" cy="187.0" r="3.7" fill="#ddeef8"/>
<circle cx="132.6" cy="193.8" r="3.7" fill="#ddeef8"/>
<circle cx="90.9" cy="213.3" r="3.7" fill="#ddeef8"/>
<circle cx="88.4" cy="215.3" r="3.7" fill="#ddeef8"/>
<circle cx="129.0" cy="246.2" r="3.7" fill="#ddeef8"/>
<circle cx="130.8" cy="302.4" r="3.7" fill="#ddeef8"/>
<rect x="215.4" y="336.6" width="7.0" height="7.0" fill="#ddeef8"/>
<circle cx="264.9" cy="172.0" r="3.7" fill="#ddeef8"/>
<circle cx="312.3" cy="212.0" r="3.7" fill="#ddeef8"/>
<circle cx="316.1" cy="213.0" r="3.7" fill="#ddeef8"/>
<circle cx="304.3" cy="242.6" r="3.7" fill="#ddeef8"/>
<path d="M300.3 292.6l3.8 7.3h-7.6Z" fill="#ddeef8"/>
<path d="M251.3 310.0l3.8 7.3h-7.6Z" fill="#ddeef8"/>
<rect x="299.0" y="315.0" width="7.0" height="7.0" fill="#ddeef8"/>
<rect x="237.8" y="328.3" width="7.0" height="7.0" fill="#ddeef8"/>
<rect x="244.3" y="336.3" width="7.0" height="7.0" fill="#ddeef8"/>
<rect x="270.4" y="331.8" width="7.0" height="7.0" fill="#ddeef8"/>
<circle cx="335.6" cy="222.9" r="3.7" fill="#ddeef8"/>
<circle cx="353.3" cy="228.5" r="3.7" fill="#ddeef8"/>
<circle cx="357.0" cy="235.7" r="3.7" fill="#ddeef8"/>
<circle cx="399.4" cy="213.5" r="3.7" fill="#3059a2"/>
<circle cx="387.8" cy="224.6" r="3.7" fill="#ddeef8"/>
<circle cx="395.0" cy="221.7" r="3.7" fill="#ddeef8"/>
<circle cx="393.8" cy="228.8" r="3.7" fill="#ddeef8"/>
<circle cx="393.1" cy="234.9" r="3.7" fill="#ddeef8"/>
<circle cx="382.8" cy="241.0" r="3.7" fill="#ddeef8"/>
<circle cx="340.0" cy="247.9" r="3.7" fill="#ddeef8"/>
<circle cx="336.8" cy="256.0" r="3.7" fill="#ddeef8"/>
<circle cx="352.1" cy="253.7" r="3.7" fill="#ddeef8"/>
<circle cx="348.1" cy="252.9" r="3.7" fill="#ddeef8"/>
<circle cx="372.5" cy="253.1" r="3.7" fill="#ddeef8"/>
<circle cx="369.2" cy="259.0" r="3.7" fill="#ddeef8"/>
<circle cx="351.1" cy="265.7" r="3.7" fill="#ddeef8"/>
<circle cx="376.5" cy="265.0" r="3.7" fill="#ddeef8"/>
<circle cx="362.9" cy="264.5" r="3.7" fill="#ddeef8"/>
<circle cx="359.9" cy="272.0" r="3.7" fill="#ddeef8"/>
<circle cx="397.1" cy="259.2" r="3.7" fill="#ddeef8"/>
<circle cx="393.8" cy="259.8" r="3.7" fill="#ddeef8"/>
<circle cx="397.8" cy="266.1" r="3.7" fill="#ddeef8"/>
<circle cx="402.4" cy="279.8" r="3.7" fill="#ddeef8"/>
<circle cx="380.4" cy="291.3" r="3.7" fill="#ddeef8"/>
<circle cx="389.7" cy="303.0" r="3.7" fill="#ddeef8"/>
<circle cx="398.4" cy="309.7" r="3.7" fill="#ddeef8"/>
<circle cx="402.1" cy="317.1" r="3.7" fill="#a5cfe1"/>
<rect x="349.9" y="305.6" width="7.0" height="7.0" fill="#ddeef8"/>
<circle cx="378.5" cy="314.1" r="3.7" fill="#a5cfe1"/>
<circle cx="374.7" cy="318.6" r="3.7" fill="#5a9bc9"/>
<circle cx="392.1" cy="322.2" r="3.7" fill="#a5cfe1"/>
<circle cx="371.2" cy="323.5" r="3.7" fill="#0a1a35"/>
<circle cx="386.8" cy="325.2" r="3.7" fill="#0a1a35"/>
<circle cx="397.3" cy="325.8" r="3.7" fill="#0a1a35"/>
<circle cx="376.8" cy="329.2" r="3.7" fill="#0a1a35"/>
<circle cx="369.1" cy="330.4" r="3.7" fill="#0a1a35"/>
<circle cx="350.4" cy="331.0" r="3.7" fill="#ddeef8"/>
<circle cx="360.7" cy="331.6" r="3.7" fill="#ddeef8"/>
<circle cx="368.2" cy="336.2" r="3.7" fill="#0a1a35"/>
<circle cx="381.4" cy="335.8" r="3.7" fill="#0a1a35"/>
<circle cx="378.5" cy="339.0" r="3.7" fill="#0a1a35"/>
<circle cx="396.6" cy="335.8" r="3.7" fill="#0a1a35"/>
<circle cx="384.5" cy="343.5" r="3.7" fill="#0a1a35"/>
<circle cx="377.5" cy="345.8" r="3.7" fill="#0a1a35"/>
<circle cx="353.9" cy="355.1" r="3.7" fill="#ddeef8"/>
<path d="M327.8 344.2l3.8 7.3h-7.6Z" fill="#ddeef8"/>
<rect x="324.3" y="353.1" width="7.0" height="7.0" fill="#ddeef8"/>
<path d="M333.2 363.3l3.8 7.3h-7.6Z" fill="#ddeef8"/>
<rect x="315.4" y="373.6" width="7.0" height="7.0" fill="#ddeef8"/>
<rect x="329.2" y="376.6" width="7.0" height="7.0" fill="#ddeef8"/>
<rect x="318.9" y="382.9" width="7.0" height="7.0" fill="#ddeef8"/>
<rect x="313.4" y="390.6" width="7.0" height="7.0" fill="#ddeef8"/>
<path d="M331.9 395.9l3.8 7.3h-7.6Z" fill="#ddeef8"/>
<circle cx="348.2" cy="370.0" r="3.7" fill="#ddeef8"/>
<circle cx="367.8" cy="362.5" r="3.7" fill="#ddeef8"/>
<circle cx="382.9" cy="363.8" r="3.7" fill="#ddeef8"/>
<circle cx="378.9" cy="370.5" r="3.7" fill="#ddeef8"/>
<circle cx="390.2" cy="374.3" r="3.7" fill="#ddeef8"/>
<circle cx="398.0" cy="370.5" r="3.7" fill="#ddeef8"/>
<circle cx="368.8" cy="382.6" r="3.7" fill="#ddeef8"/>
<circle cx="380.4" cy="386.6" r="3.7" fill="#ddeef8"/>
<circle cx="346.2" cy="387.6" r="3.7" fill="#ddeef8"/>
<circle cx="358.3" cy="387.1" r="3.7" fill="#ddeef8"/>
<circle cx="356.3" cy="395.1" r="3.7" fill="#ddeef8"/>
<circle cx="397.0" cy="399.7" r="3.7" fill="#ddeef8"/>
<circle cx="365.1" cy="405.9" r="3.7" fill="#ddeef8"/>
<circle cx="373.4" cy="405.9" r="3.7" fill="#ddeef8"/>
<circle cx="340.7" cy="412.2" r="3.7" fill="#ddeef8"/>
<circle cx="338.5" cy="420.5" r="3.7" fill="#ddeef8"/>
<circle cx="529.0" cy="78.8" r="3.7" fill="#ddeef8"/>
<circle cx="571.7" cy="107.2" r="3.7" fill="#ddeef8"/>
<circle cx="552.1" cy="126.5" r="3.7" fill="#ddeef8"/>
<circle cx="559.9" cy="132.3" r="3.7" fill="#ddeef8"/>
<circle cx="491.9" cy="161.2" r="3.7" fill="#ddeef8"/>
<circle cx="554.9" cy="160.4" r="3.7" fill="#ddeef8"/>
<circle cx="520.2" cy="178.5" r="3.7" fill="#ddeef8"/>
<circle cx="548.4" cy="182.5" r="3.7" fill="#ddeef8"/>
<circle cx="535.8" cy="188.0" r="3.7" fill="#a5cfe1"/>
<circle cx="570.7" cy="178.0" r="3.7" fill="#ddeef8"/>
<circle cx="565.9" cy="184.8" r="3.7" fill="#ddeef8"/>
<circle cx="569.7" cy="191.8" r="3.7" fill="#ddeef8"/>
<circle cx="563.7" cy="191.8" r="3.7" fill="#ddeef8"/>
<circle cx="561.7" cy="194.8" r="3.7" fill="#ddeef8"/>
<circle cx="552.6" cy="193.8" r="3.7" fill="#ddeef8"/>
<circle cx="542.8" cy="193.8" r="3.7" fill="#ddeef8"/>
<circle cx="539.6" cy="198.8" r="3.7" fill="#ddeef8"/>
<circle cx="553.6" cy="200.6" r="3.7" fill="#ddeef8"/>
<circle cx="511.0" cy="196.1" r="3.7" fill="#ddeef8"/>
<circle cx="480.1" cy="197.8" r="3.7" fill="#ddeef8"/>
<circle cx="462.2" cy="195.6" r="3.7" fill="#ddeef8"/>
<circle cx="447.7" cy="197.8" r="3.7" fill="#ddeef8"/>
<path d="M431.6 197.6l3.8 7.3h-7.6Z" fill="#ddeef8"/>
<circle cx="405.3" cy="198.6" r="3.7" fill="#ddeef8"/>
<circle cx="464.3" cy="207.4" r="3.7" fill="#ddeef8"/>
<circle cx="430.7" cy="211.0" r="3.7" fill="#ddeef8"/>
<circle cx="455.6" cy="217.8" r="3.7" fill="#ddeef8"/>
<circle cx="429.1" cy="231.0" r="3.7" fill="#ddeef8"/>
<circle cx="458.5" cy="230.1" r="3.7" fill="#ddeef8"/>
<circle cx="459.2" cy="239.1" r="3.7" fill="#ddeef8"/>
<circle cx="456.7" cy="236.7" r="3.7" fill="#ddeef8"/>
<circle cx="467.2" cy="236.5" r="3.7" fill="#0a1a35"/>
<circle cx="476.4" cy="234.1" r="3.7" fill="#0a1a35"/>
<circle cx="486.9" cy="223.8" r="3.7" fill="#0a1a35"/>
<circle cx="488.1" cy="237.9" r="3.7" fill="#0a1a35"/>
<circle cx="442.9" cy="240.9" r="3.7" fill="#ddeef8"/>
<circle cx="476.2" cy="246.8" r="3.7" fill="#0a1a35"/>
<circle cx="476.2" cy="252.7" r="3.7" fill="#0a1a35"/>
<circle cx="426.1" cy="252.4" r="3.7" fill="#ddeef8"/>
<circle cx="409.8" cy="259.3" r="3.7" fill="#ddeef8"/>
<circle cx="446.4" cy="259.0" r="3.7" fill="#a5cfe1"/>
<circle cx="474.3" cy="258.3" r="3.7" fill="#0a1a35"/>
<circle cx="462.1" cy="257.5" r="3.7" fill="#0a1a35"/>
<circle cx="473.1" cy="261.2" r="3.7" fill="#0a1a35"/>
<circle cx="464.3" cy="269.0" r="3.7" fill="#0a1a35"/>
<circle cx="469.8" cy="268.4" r="3.7" fill="#0a1a35"/>
<circle cx="459.7" cy="265.7" r="3.7" fill="#5a9bc9"/>
<circle cx="422.5" cy="270.8" r="3.7" fill="#0a1a35"/>
<circle cx="441.0" cy="271.5" r="3.7" fill="#0a1a35"/>
<circle cx="443.5" cy="275.3" r="3.7" fill="#0a1a35"/>
<circle cx="455.7" cy="275.5" r="3.7" fill="#5a9bc9"/>
<circle cx="468.0" cy="274.7" r="3.7" fill="#0a1a35"/>
<circle cx="475.2" cy="274.7" r="3.7" fill="#0a1a35"/>
<circle cx="487.5" cy="278.8" r="3.7" fill="#0a1a35"/>
<circle cx="419.1" cy="279.4" r="3.7" fill="#0a1a35"/>
<path d="M426.6 274.2l3.8 7.3h-7.6Z" fill="#0a1a35"/>
<circle cx="422.8" cy="282.2" r="3.7" fill="#0a1a35"/>
<circle cx="404.0" cy="279.4" r="3.7" fill="#ddeef8"/>
<circle cx="431.0" cy="284.1" r="3.7" fill="#ddeef8"/>
<circle cx="469.3" cy="283.4" r="3.7" fill="#0a1a35"/>
<circle cx="527.3" cy="210.6" r="3.7" fill="#a5cfe1"/>
<circle cx="574.1" cy="210.0" r="3.7" fill="#ddeef8"/>
<circle cx="495.6" cy="210.6" r="3.7" fill="#0a1a35"/>
<circle cx="498.8" cy="214.6" r="3.7" fill="#0a1a35"/>
<circle cx="512.0" cy="213.8" r="3.7" fill="#0a1a35"/>
<circle cx="503.4" cy="220.3" r="3.7" fill="#0a1a35"/>
<circle cx="547.8" cy="222.9" r="3.7" fill="#ddeef8"/>
<circle cx="545.2" cy="241.0" r="3.7" fill="#ddeef8"/>
<circle cx="552.8" cy="241.0" r="3.7" fill="#ddeef8"/>
<circle cx="494.6" cy="241.8" r="3.7" fill="#0a1a35"/>
<circle cx="512.0" cy="242.6" r="3.7" fill="#0a1a35"/>
<circle cx="516.7" cy="241.4" r="3.7" fill="#0a1a35"/>
<circle cx="512.3" cy="250.4" r="3.7" fill="#5a9bc9"/>
<circle cx="522.9" cy="252.2" r="3.7" fill="#3059a2"/>
<circle cx="501.7" cy="251.7" r="3.7" fill="#0a1a35"/>
<circle cx="490.6" cy="254.2" r="3.7" fill="#0a1a35"/>
<circle cx="502.9" cy="257.7" r="3.7" fill="#0a1a35"/>
<circle cx="508.8" cy="257.7" r="3.7" fill="#0a1a35"/>
<circle cx="534.9" cy="259.0" r="3.7" fill="#ddeef8"/>
<circle cx="497.5" cy="267.1" r="3.7" fill="#0a1a35"/>
<circle cx="526.4" cy="267.1" r="3.7" fill="#a5cfe1"/>
<circle cx="498.8" cy="275.9" r="3.7" fill="#ddeef8"/>
<circle cx="507.3" cy="273.8" r="3.7" fill="#a5cfe1"/>
<circle cx="515.1" cy="271.5" r="3.7" fill="#5a9bc9"/>
<circle cx="523.3" cy="277.2" r="3.7" fill="#ddeef8"/>
<circle cx="503.6" cy="280.9" r="3.7" fill="#ddeef8"/>
<circle cx="514.5" cy="283.4" r="3.7" fill="#ddeef8"/>
<circle cx="498.2" cy="284.1" r="3.7" fill="#0a1a35"/>
<circle cx="464.3" cy="287.5" r="3.7" fill="#3059a2"/>
<circle cx="471.8" cy="290.0" r="3.7" fill="#3059a2"/>
<circle cx="478.1" cy="288.8" r="3.7" fill="#5a9bc9"/>
<circle cx="488.1" cy="284.0" r="3.7" fill="#0a1a35"/>
<circle cx="411.8" cy="295.0" r="3.7" fill="#ddeef8"/>
<circle cx="421.6" cy="299.4" r="3.7" fill="#ddeef8"/>
<circle cx="439.3" cy="300.1" r="3.7" fill="#ddeef8"/>
<circle cx="456.7" cy="296.0" r="3.7" fill="#3059a2"/>
<circle cx="471.8" cy="296.6" r="3.7" fill="#a5cfe1"/>
<circle cx="453.0" cy="307.8" r="3.7" fill="#a5cfe1"/>
<circle cx="472.5" cy="306.3" r="3.7" fill="#5a9bc9"/>
<circle cx="464.9" cy="311.6" r="3.7" fill="#ddeef8"/>
<circle cx="453.0" cy="319.5" r="3.7" fill="#ddeef8"/>
<circle cx="444.2" cy="323.3" r="3.7" fill="#ddeef8"/>
<circle cx="453.8" cy="328.1" r="3.7" fill="#ddeef8"/>
<circle cx="426.0" cy="328.1" r="3.7" fill="#ddeef8"/>
<circle cx="470.5" cy="320.5" r="3.7" fill="#0a1a35"/>
<circle cx="474.9" cy="325.2" r="3.7" fill="#0a1a35"/>
<circle cx="480.6" cy="325.8" r="3.7" fill="#0a1a35"/>
<circle cx="481.8" cy="329.2" r="3.7" fill="#0a1a35"/>
<circle cx="473.9" cy="332.7" r="3.7" fill="#3059a2"/>
<circle cx="462.4" cy="338.4" r="3.7" fill="#5a9bc9"/>
<circle cx="436.0" cy="341.2" r="3.7" fill="#ddeef8"/>
<circle cx="448.2" cy="342.1" r="3.7" fill="#a5cfe1"/>
<circle cx="454.8" cy="347.1" r="3.7" fill="#a5cfe1"/>
<circle cx="428.2" cy="350.7" r="3.7" fill="#ddeef8"/>
<circle cx="423.5" cy="357.2" r="3.7" fill="#ddeef8"/>
<circle cx="431.0" cy="359.1" r="3.7" fill="#ddeef8"/>
<circle cx="451.1" cy="357.2" r="3.7" fill="#ddeef8"/>
<circle cx="469.9" cy="358.4" r="3.7" fill="#ddeef8"/>
<circle cx="480.8" cy="356.6" r="3.7" fill="#ddeef8"/>
<circle cx="475.9" cy="356.6" r="3.7" fill="#ddeef8"/>
<circle cx="501.3" cy="288.8" r="3.7" fill="#0a1a35"/>
<circle cx="523.5" cy="290.4" r="3.7" fill="#5a9bc9"/>
<circle cx="533.3" cy="291.9" r="3.7" fill="#3059a2"/>
<circle cx="490.0" cy="297.6" r="3.7" fill="#5a9bc9"/>
<circle cx="505.3" cy="296.9" r="3.7" fill="#5a9bc9"/>
<circle cx="501.7" cy="300.9" r="3.7" fill="#5a9bc9"/>
<circle cx="514.5" cy="303.8" r="3.7" fill="#0a1a35"/>
<circle cx="519.3" cy="307.6" r="3.7" fill="#0a1a35"/>
<circle cx="526.0" cy="305.1" r="3.7" fill="#0a1a35"/>
<circle cx="530.8" cy="301.9" r="3.7" fill="#0a1a35"/>
<circle cx="540.6" cy="307.8" r="3.7" fill="#3059a2"/>
<circle cx="496.5" cy="311.4" r="3.7" fill="#a5cfe1"/>
<circle cx="504.4" cy="309.9" r="3.7" fill="#5a9bc9"/>
<circle cx="531.4" cy="310.7" r="3.7" fill="#5a9bc9"/>
<circle cx="534.8" cy="312.9" r="3.7" fill="#a5cfe1"/>
<circle cx="538.3" cy="316.4" r="3.7" fill="#a5cfe1"/>
<circle cx="516.4" cy="312.0" r="3.7" fill="#0a1a35"/>
<circle cx="515.7" cy="315.8" r="3.7" fill="#3059a2"/>
<circle cx="544.9" cy="318.6" r="3.7" fill="#0a1a35"/>
<circle cx="510.1" cy="320.8" r="3.7" fill="#a5cfe1"/>
<circle cx="519.5" cy="320.5" r="3.7" fill="#ddeef8"/>
<circle cx="532.7" cy="321.4" r="3.7" fill="#0a1a35"/>
<circle cx="539.0" cy="322.7" r="3.7" fill="#0a1a35"/>
<circle cx="501.9" cy="325.2" r="3.7" fill="#a5cfe1"/>
<circle cx="506.3" cy="323.9" r="3.7" fill="#5a9bc9"/>
<rect x="509.5" y="324.8" width="7.0" height="7.0" fill="#ddeef8"/>
<circle cx="533.3" cy="328.3" r="3.7" fill="#0a1a35"/>
<circle cx="537.7" cy="331.5" r="3.7" fill="#3059a2"/>
<rect x="543.6" y="329.8" width="7.0" height="7.0" fill="#5a9bc9"/>
<rect x="549.3" y="327.3" width="7.0" height="7.0" fill="#a5cfe1"/>
<circle cx="490.6" cy="334.6" r="3.7" fill="#3059a2"/>
<circle cx="503.6" cy="339.6" r="3.7" fill="#ddeef8"/>
<circle cx="520.8" cy="343.4" r="3.7" fill="#a5cfe1"/>
<circle cx="528.0" cy="341.5" r="3.7" fill="#3059a2"/>
<rect x="542.6" y="344.7" width="7.0" height="7.0" fill="#ddeef8"/>
<circle cx="490.6" cy="346.5" r="3.7" fill="#a5cfe1"/>
<circle cx="511.6" cy="349.3" r="3.7" fill="#ddeef8"/>
<path d="M501.9 347.9l3.8 7.3h-7.6Z" fill="#a5cfe1"/>
<path d="M495.0 351.1l3.8 7.3h-7.6Z" fill="#ddeef8"/>
<circle cx="446.7" cy="363.1" r="3.7" fill="#a5cfe1"/>
<circle cx="481.2" cy="364.4" r="3.7" fill="#a5cfe1"/>
<circle cx="406.5" cy="368.8" r="3.7" fill="#ddeef8"/>
<path d="M411.5 367.7l3.8 7.3h-7.6Z" fill="#ddeef8"/>
<circle cx="454.8" cy="370.7" r="3.7" fill="#a5cfe1"/>
<path d="M447.9 368.9l3.8 7.3h-7.6Z" fill="#ddeef8"/>
<circle cx="461.8" cy="378.8" r="3.7" fill="#ddeef8"/>
<circle cx="481.0" cy="378.6" r="3.7" fill="#5a9bc9"/>
<circle cx="434.1" cy="384.5" r="3.7" fill="#ddeef8"/>
<circle cx="412.2" cy="390.8" r="3.7" fill="#ddeef8"/>
<circle cx="467.8" cy="389.5" r="3.7" fill="#5a9bc9"/>
<circle cx="447.3" cy="393.9" r="3.7" fill="#ddeef8"/>
<circle cx="425.3" cy="395.2" r="3.7" fill="#ddeef8"/>
<circle cx="423.8" cy="401.4" r="3.7" fill="#ddeef8"/>
<circle cx="444.8" cy="403.9" r="3.7" fill="#ddeef8"/>
<circle cx="478.7" cy="401.4" r="3.7" fill="#5a9bc9"/>
<circle cx="461.8" cy="402.1" r="3.7" fill="#0a1a35"/>
<circle cx="427.2" cy="408.1" r="3.7" fill="#a5cfe1"/>
<circle cx="451.1" cy="410.6" r="3.7" fill="#ddeef8"/>
<circle cx="455.5" cy="409.0" r="3.7" fill="#0a1a35"/>
<circle cx="463.6" cy="408.3" r="3.7" fill="#0a1a35"/>
<circle cx="469.3" cy="409.6" r="3.7" fill="#0a1a35"/>
<circle cx="475.6" cy="408.3" r="3.7" fill="#0a1a35"/>
<circle cx="414.4" cy="411.5" r="3.7" fill="#ddeef8"/>
<circle cx="433.1" cy="413.4" r="3.7" fill="#ddeef8"/>
<circle cx="405.0" cy="415.6" r="3.7" fill="#ddeef8"/>
<circle cx="461.1" cy="414.0" r="3.7" fill="#0a1a35"/>
<circle cx="472.4" cy="414.6" r="3.7" fill="#0a1a35"/>
<rect x="462.9" y="413.0" width="7.0" height="7.0" fill="#0a1a35"/>
<rect x="481.5" y="408.6" width="7.0" height="7.0" fill="#5a9bc9"/>
<rect x="447.6" y="418.0" width="7.0" height="7.0" fill="#ddeef8"/>
<rect x="436.9" y="419.9" width="7.0" height="7.0" fill="#ddeef8"/>
<rect x="410.3" y="419.3" width="7.0" height="7.0" fill="#ddeef8"/>
<path d="M416.6 417.3l3.8 7.3h-7.6Z" fill="#ddeef8"/>
<rect x="419.6" y="423.4" width="7.0" height="7.0" fill="#ddeef8"/>
<rect x="431.3" y="425.3" width="7.0" height="7.0" fill="#ddeef8"/>
<circle cx="507.6" cy="374.1" r="3.7" fill="#ddeef8"/>
<path d="M513.9 365.8l3.8 7.3h-7.6Z" fill="#ddeef8"/>
<path d="M527.0 365.8l3.8 7.3h-7.6Z" fill="#ddeef8"/>
<path d="M525.2 372.1l3.8 7.3h-7.6Z" fill="#a5cfe1"/>
<rect x="518.5" y="379.1" width="7.0" height="7.0" fill="#a5cfe1"/>
<rect x="498.4" y="382.9" width="7.0" height="7.0" fill="#ddeef8"/>
<rect x="514.1" y="385.4" width="7.0" height="7.0" fill="#ddeef8"/>
<rect x="509.7" y="390.4" width="7.0" height="7.0" fill="#ddeef8"/>
<path d="M492.5 389.7l3.8 7.3h-7.6Z" fill="#ddeef8"/>
<path d="M505.1 389.7l3.8 7.3h-7.6Z" fill="#a5cfe1"/>
<rect x="490.3" y="399.8" width="7.0" height="7.0" fill="#ddeef8"/>
<rect x="495.3" y="401.7" width="7.0" height="7.0" fill="#a5cfe1"/>
<rect x="431.1" y="438.6" width="7.0" height="7.0" fill="#ddeef8"/>
<rect x="422.6" y="457.2" width="7.0" height="7.0" fill="#ddeef8"/>
<circle cx="568.2" cy="26.4" r="3.7" fill="#ddeef8"/>
<circle cx="607.4" cy="63.5" r="3.7" fill="#ddeef8"/>
<circle cx="621.5" cy="101.4" r="3.7" fill="#ddeef8"/>
<circle cx="635.3" cy="107.5" r="3.7" fill="#ddeef8"/>
<circle cx="636.0" cy="114.7" r="3.7" fill="#ddeef8"/>
<circle cx="644.1" cy="117.0" r="3.7" fill="#ddeef8"/>
<circle cx="640.8" cy="129.6" r="3.7" fill="#ddeef8"/>
<circle cx="642.0" cy="136.8" r="3.7" fill="#ddeef8"/>
<circle cx="602.1" cy="117.2" r="3.7" fill="#ddeef8"/>
<circle cx="582.5" cy="118.0" r="3.7" fill="#ddeef8"/>
<circle cx="598.4" cy="130.3" r="3.7" fill="#ddeef8"/>
<circle cx="580.0" cy="136.8" r="3.7" fill="#ddeef8"/>
<circle cx="628.0" cy="146.4" r="3.7" fill="#ddeef8"/>
<circle cx="585.8" cy="156.8" r="3.7" fill="#ddeef8"/>
<circle cx="598.4" cy="157.0" r="3.7" fill="#ddeef8"/>
<circle cx="575.8" cy="167.1" r="3.7" fill="#ddeef8"/>
<circle cx="583.5" cy="170.6" r="3.7" fill="#ddeef8"/>
<circle cx="627.5" cy="170.1" r="3.7" fill="#ddeef8"/>
<circle cx="596.4" cy="183.1" r="3.7" fill="#ddeef8"/>
<circle cx="591.3" cy="189.4" r="3.7" fill="#ddeef8"/>
</g>
<rect x="59.4" y="1.9" width="623.4" height="492.40000000000003" fill="none" stroke="#444" stroke-width="1.5"/>
<g class="t"><text x="79.6" y="52" font-size="30" text-anchor="start" textLength="24.6" lengthAdjust="spacingAndGlyphs">a)</text></g>
<g class="t"><text x="65.8" y="551.1" font-size="21" text-anchor="start" textLength="101.4" lengthAdjust="spacingAndGlyphs">Exceedance</text><text x="65.8" y="580.3" font-size="21" text-anchor="start" textLength="37.6" lengthAdjust="spacingAndGlyphs">days</text></g>
<rect x="182.8" y="536.6" width="95.30000000000001" height="24.100000000000023" fill="#ddeef8"/>
<rect x="278.1" y="536.6" width="93.89999999999998" height="24.100000000000023" fill="#a5cfe1"/>
<rect x="372" y="536.6" width="94.5" height="24.100000000000023" fill="#5a9bc9"/>
<rect x="466.5" y="536.6" width="94.20000000000005" height="24.100000000000023" fill="#3059a2"/>
<rect x="560.7" y="536.6" width="95.5" height="24.100000000000023" fill="#0a1a35"/>
<g fill="none" stroke="#101c48" stroke-width="1.1"><rect x="182.8" y="536.6" width="473.40000000000003" height="24.100000000000023"/>
<line x1="278.1" y1="536.6" x2="278.1" y2="560.7"/>
<line x1="372" y1="536.6" x2="372" y2="560.7"/>
<line x1="466.5" y1="536.6" x2="466.5" y2="560.7"/>
<line x1="560.7" y1="536.6" x2="560.7" y2="560.7"/>
</g>
<g class="t">
<text x="186.1" y="586.5" font-size="20.5" text-anchor="middle">0</text>
<text x="279.3" y="586.5" font-size="20.5" text-anchor="middle">10</text>
<text x="373.5" y="586.5" font-size="20.5" text-anchor="middle">20</text>
<text x="467.6" y="586.5" font-size="20.5" text-anchor="middle">30</text>
<text x="563.6" y="586.5" font-size="20.5" text-anchor="middle">40</text>
<text x="656.7" y="586.5" font-size="20.5" text-anchor="middle">50</text>
</g>
<!-- panel b -->
<g stroke="#d4d4d4" stroke-width="1" stroke-dasharray="1.5 1" fill="none">
<line x1="118" y1="600.8" x2="118" y2="977.3"/>
<line x1="222.1" y1="600.8" x2="222.1" y2="977.3"/>
<line x1="326.2" y1="600.8" x2="326.2" y2="977.3"/>
<line x1="430.3" y1="600.8" x2="430.3" y2="977.3"/>
<line x1="534.4" y1="600.8" x2="534.4" y2="977.3"/>
<line x1="638.5" y1="600.8" x2="638.5" y2="977.3"/>
<line x1="66.5" y1="633.9" x2="680.6" y2="633.9"/>
<line x1="66.5" y1="710" x2="680.6" y2="710"/>
<line x1="66.5" y1="780.9" x2="680.6" y2="780.9"/>
<line x1="66.5" y1="846.2" x2="680.6" y2="846.2"/>
<line x1="66.5" y1="907.5" x2="680.6" y2="907.5"/>
<line x1="66.5" y1="966" x2="680.6" y2="966"/>
</g>
<g class="t">
<text x="121.7" y="1005.2" font-size="21" text-anchor="middle" textLength="57.9" lengthAdjust="spacingAndGlyphs">120°W</text>
<text x="219.9" y="1005.2" font-size="21" text-anchor="middle" textLength="57.9" lengthAdjust="spacingAndGlyphs">110°W</text>
<text x="319.2" y="1005.2" font-size="21" text-anchor="middle" textLength="57.9" lengthAdjust="spacingAndGlyphs">100°W</text>
<text x="422.3" y="1005.2" font-size="21" text-anchor="middle" textLength="48.9" lengthAdjust="spacingAndGlyphs">90°W</text>
<text x="518" y="1005.2" font-size="21" text-anchor="middle" textLength="48.9" lengthAdjust="spacingAndGlyphs">80°W</text>
<text x="622.8" y="1005.2" font-size="21" text-anchor="middle" textLength="48.9" lengthAdjust="spacingAndGlyphs">70°W</text>
<text x="7.5" y="640" font-size="21" text-anchor="start" textLength="44.1" lengthAdjust="spacingAndGlyphs">50°N</text>
<text x="7.5" y="711.3" font-size="21" text-anchor="start" textLength="44.1" lengthAdjust="spacingAndGlyphs">45°N</text>
<text x="7.5" y="777.1" font-size="21" text-anchor="start" textLength="44.1" lengthAdjust="spacingAndGlyphs">40°N</text>
<text x="7.5" y="850.4" font-size="21" text-anchor="start" textLength="44.1" lengthAdjust="spacingAndGlyphs">35°N</text>
<text x="7.5" y="908.8" font-size="21" text-anchor="start" textLength="44.1" lengthAdjust="spacingAndGlyphs">30°N</text>
<text x="7.5" y="973.3" font-size="21" text-anchor="start" textLength="44.1" lengthAdjust="spacingAndGlyphs">25°N</text>
</g>
<g class="bb">
<polyline points="89.2,649.8 152.0,649.8"/>
<polyline points="148.9,649.8 148.9,692.7 150.1,695.2"/>
<polyline points="67.3,661.3 68.9,662.9 71.0,663.9 71.6,666.5 72.9,668.9"/>
<polyline points="71.0,662.6 73.5,662.1 76.0,662.1 78.6,662.3 81.0,662.9 83.6,663.1 86.1,663.2 88.6,663.1 91.1,662.6 92.8,663.7 94.2,665.1 93.5,667.6 93.0,670.1 93.2,672.7 93.6,675.2 92.3,676.4 91.1,677.7 89.2,678.0 87.3,677.7 85.5,675.2 86.3,673.2 87.3,671.4 88.2,669.2 89.2,667.0 90.3,665.5 91.1,663.9"/>
<polyline points="89.2,649.8 89.8,652.0 91.1,653.8 90.1,655.6 89.9,657.6 91.1,659.5 92.4,661.3"/>
<polyline points="77.9,692.7 80.8,692.7 83.6,692.7 85.6,693.8 87.3,695.2 89.5,696.8 91.1,699.0 93.3,700.3 94.9,702.1 98.0,701.2 101.2,700.3 103.7,699.9 106.2,699.7 108.7,699.6 111.2,699.8 113.7,699.2 116.2,699.0 119.4,698.1 122.5,697.1 124.3,696.3 126.3,695.9 136.3,695.5 148.9,695.5"/>
<polyline points="73.5,715.1 72.3,732.6 73.5,750.2 74.6,752.0 74.8,754.0 73.5,765.3 74.8,775.3 79.8,782.9 82.3,792.9 87.3,800.4 89.9,810.5 94.9,818.0 99.9,828.0 101.3,830.5 102.7,832.9 103.7,835.6 109.9,843.1 116.2,849.9"/>
<polyline points="74.8,753.5 211.6,753.5"/>
<polyline points="155.1,700.0 154.3,702.5 153.0,704.9 152.6,707.5 147.6,717.6 148.9,727.6 148.9,753.5"/>
<polyline points="176.5,700.0 178.9,701.4 181.5,702.5 183.4,704.4 184.6,706.9 186.5,708.8 187.5,711.4 188.8,713.9 190.3,716.3 192.0,717.9 194.0,718.8 196.6,718.6 199.1,718.3 201.6,717.6 204.1,717.0 206.7,717.2 209.1,716.3 210.7,714.0 211.6,711.3 238.0,711.3"/>
<polyline points="211.6,711.3 211.6,767.3 238.0,767.3"/>
<polyline points="118.7,753.5 118.7,794.2 174.0,845.6 174.9,847.7 175.2,849.9"/>
<polyline points="180.7,753.5 180.7,830.6 179.1,831.6 177.7,833.1 175.2,844.4 174.0,845.6"/>
<polyline points="180.7,820.5 238.0,820.5"/>
<polyline points="231.7,767.3 231.7,820.5"/>
<polyline points="98.6,830.0 106.2,837.5 111.2,845.1 111.4,848.2 111.9,851.3 114.6,852.1 117.3,853.0 120.0,853.9 123.1,854.5 126.3,855.1 128.6,856.7 131.3,857.6 133.8,858.9 141.3,863.9 142.3,866.1 143.9,868.0 145.1,870.2 145.6,873.4 146.8,876.4"/>
<polyline points="146.8,876.4 174.0,875.2 211.1,891.0 238.0,891.0"/>
<polyline points="158.9,830.0 174.0,845.6"/>
<polyline points="174.0,830.0 174.7,845.6 175.9,848.6 177.7,851.3 178.6,853.2 179.5,855.1 177.9,857.0 176.5,858.9 175.5,861.9 175.2,865.1 174.5,875.2"/>
<polyline points="232.5,830.0 232.5,891.0"/>
<polyline points="116.2,858.9 119.4,858.7 122.5,858.1"/>
<polyline points="132.5,865.1 134.2,866.4 135.8,867.7"/>
<polyline points="132.5,870.9 134.0,871.9 135.0,873.2"/>
<polyline points="152.0,649.7 324.0,649.7"/>
<polyline points="159.0,649.7 159.0,665.3 160.6,667.7 161.7,670.4 163.3,672.8 164.8,675.2 165.8,677.8 167.7,679.8 170.1,681.0 172.1,682.9 174.4,685.0 177.1,686.6 175.9,699.2"/>
<polyline points="211.5,710.5 284.6,710.5"/>
<polyline points="284.6,649.7 284.6,749.9"/>
<polyline points="284.6,696.2 324.0,696.2"/>
<polyline points="284.6,739.3 324.0,739.3"/>
<polyline points="284.5,740.0 284.5,767.0"/>
<polyline points="238.0,767.0 305.8,767.0 305.8,815.0"/>
<polyline points="305.8,780.8 324.0,780.8"/>
<polyline points="324.0,740.0 341.6,740.0 344.1,740.8 346.6,741.9 348.8,742.1 351.0,741.8 353.2,741.4 355.4,741.3 357.5,742.1 359.5,743.1 361.7,743.8 362.4,745.9 363.5,747.9 364.2,750.0 365.5,752.5 366.3,755.1 367.3,757.6 367.6,760.2 368.5,762.6 369.2,765.1 370.0,767.6 369.8,770.2 370.5,772.6 371.5,774.8 372.6,777.0 374.2,778.9 376.3,780.9 378.0,783.3 378.4,785.6 379.2,787.7 381.1,790.0 382.4,792.7 382.4,815.0"/>
<polyline points="370.5,772.9 410.0,772.4"/>
<polyline points="324.0,780.8 376.7,780.8"/>
<polyline points="238.0,820.6 324.0,820.6"/>
<polyline points="305.2,815.0 305.0,817.8 305.2,820.6"/>
<polyline points="295.1,820.6 295.1,883.4 275.7,883.7 263.1,884.1 241.1,886.2 241.3,888.1 241.1,890.0"/>
<polyline points="295.1,827.3 324.0,827.3"/>
<polyline points="324.0,820.6 383.6,820.6 384.1,822.9 383.7,825.3 384.3,827.6 384.9,862.7 386.6,863.3 388.0,864.6 388.3,867.4 388.7,870.2 410.0,870.2"/>
<polyline points="390.5,827.3 410.0,827.3"/>
<polyline points="324.0,827.3 325.9,827.3 325.9,848.9 327.8,851.4 329.5,852.6 331.5,853.3 333.5,854.0 335.3,855.2 337.9,855.9 340.3,857.1 342.4,857.9 344.7,857.9 346.9,858.7 349.1,858.9 351.8,859.4 354.2,860.5 356.6,861.5 366.7,860.8 369.1,860.1 371.7,860.1 374.2,859.6 376.9,860.2 379.2,861.5 381.9,862.8 384.9,863.3"/>
<polyline points="388.7,870.2 388.9,872.8 388.0,875.2 388.0,877.8 389.1,880.8 389.3,884.1 390.7,886.9 391.8,890.0"/>
<polyline points="324.0,649.8 376.1,649.8 376.7,647.1 376.7,644.4 379.9,644.4 380.8,646.8 381.4,649.3 381.8,651.9 384.2,653.3 386.8,654.4 389.3,655.3 391.8,656.3 394.3,655.6 396.8,655.7 399.2,657.0 401.8,657.6 403.9,659.2 405.6,661.3 407.7,660.3 410.0,660.1"/>
<polyline points="355.4,649.8 357.3,658.8 358.5,668.9 359.0,671.1 359.1,673.3 359.3,675.5 359.8,677.7 360.3,680.1 360.3,682.7 360.4,685.2 361.4,687.6 361.7,690.2 362.3,692.7 361.7,694.9 361.7,697.1 360.5,699.2 359.8,701.5 361.4,703.7 363.5,705.3 363.9,732.9 363.4,735.3 362.9,737.6 362.9,740.1"/>
<polyline points="324.0,697.1 361.7,697.1"/>
<polyline points="363.9,732.7 410.0,732.7"/>
<polyline points="410.0,683.3 408.3,685.4 406.9,687.7 406.6,690.8 406.2,694.0 405.0,695.8 403.2,697.2 401.8,699.0 401.1,701.6 400.0,704.0 400.0,707.2 399.3,710.3 400.0,712.2 400.6,714.1 402.3,715.6 404.4,716.6 406.4,717.6 408.1,719.2 410.0,720.4"/>
<polyline points="410.0,662.6 411.9,661.9 413.8,661.3 415.6,662.3 417.5,663.2 420.0,662.3 422.6,662.0 425.6,663.0 428.8,663.2 431.7,664.3 434.5,665.7 432.5,666.9 430.8,668.3 428.8,669.5 427.0,671.3 424.6,672.4 422.6,673.9 420.7,675.8 418.6,677.6 416.3,678.9 414.4,680.7 412.3,682.1 410.0,683.3"/>
<polyline points="410.0,685.2 412.4,684.0 415.1,683.6 417.5,682.7 419.6,684.2 421.5,686.0 423.8,687.1 425.6,688.1 427.6,688.3 429.7,687.1 431.3,685.2 433.7,683.7 436.4,682.7 438.8,680.8 441.4,678.9 443.5,678.1 445.8,677.7 448.0,675.8 450.2,673.9 452.1,674.0 453.9,673.9 451.9,675.6 450.2,677.7 448.5,678.8 447.0,680.2 447.0,683.3 449.1,682.2 451.4,681.4 453.4,682.6 455.2,683.9 456.4,685.8 457.7,687.7 460.3,687.9 462.7,689.0 465.1,687.9 467.8,687.7 470.2,686.4 472.8,685.2 475.2,684.5 477.8,684.6 480.3,684.5 482.8,683.9 483.7,685.8 484.1,687.7 486.1,688.3 487.8,689.6"/>
<polyline points="427.6,688.3 430.2,689.1 432.7,690.2 435.1,691.5 437.7,692.3 440.1,693.6 442.6,694.6 445.2,695.4 447.7,696.1 450.2,697.1 451.3,699.4 452.7,701.5 453.6,704.0 453.9,706.5 454.6,708.6 455.8,710.3 454.8,712.7 454.6,715.3 453.4,717.8 452.7,720.4 452.3,722.9 451.8,725.4 451.4,727.9 450.9,730.4 451.0,733.0 450.2,735.4"/>
<polyline points="455.8,710.3 456.8,708.2 457.9,706.1 459.0,704.0 460.4,702.2 462.1,700.4 464.0,699.0 460.2,707.8 459.1,709.8 458.7,712.0 457.7,714.1"/>
<polyline points="464.0,699.0 466.5,697.8 469.0,696.5 471.2,696.0 473.2,694.9 475.3,694.0 477.8,694.4 480.3,695.2 482.6,696.9 485.3,697.8"/>
<polyline points="482.8,701.5 482.3,703.4 481.6,705.3 480.3,707.2 478.4,708.4 478.6,711.3 479.1,714.1 477.5,712.4 476.5,710.3 476.1,712.9 475.3,715.3 473.8,717.7 472.8,720.4 472.2,722.8 472.4,725.4 471.5,727.9 472.0,730.4 472.4,732.9 472.8,735.4 473.4,737.7 474.0,740.1"/>
<polyline points="438.9,667.6 441.0,665.9 443.5,664.8 445.8,663.2 446.4,663.9 444.3,665.6 441.9,666.9 439.5,668.2 438.9,667.6"/>
<polyline points="410.0,720.4 411.8,721.9 413.1,724.0 415.0,725.4 416.2,727.8 416.5,730.5 417.5,732.9 418.2,735.2 418.3,737.7 418.8,740.1"/>
<polyline points="410.0,732.9 412.5,732.8 415.0,732.9 417.5,732.9"/>
<polyline points="424.4,746.0 451.4,746.0"/>
<polyline points="417.5,740.0 419.3,742.0 421.3,743.8 422.9,744.8 424.4,746.0 425.7,747.9 426.3,750.0 427.9,751.7 428.8,753.8 427.3,756.5 425.1,758.8 422.4,760.5 420.0,762.6 419.3,765.7 418.8,768.9 416.6,771.1 415.0,773.9 415.2,776.4 415.6,778.9 417.1,780.8 417.6,783.2 418.8,785.2 420.5,787.9 422.6,790.2 424.5,791.6 426.7,792.7 428.8,794.0 430.8,796.4 432.6,799.0 433.3,802.1 433.9,805.3 433.0,807.7 432.6,810.3"/>
<polyline points="457.1,758.8 457.1,787.7 456.8,789.9 456.1,792.1 455.7,794.3 455.2,796.5 454.0,798.4 453.3,800.6 452.7,802.8 451.5,805.2 450.7,807.7 450.2,810.3 449.7,812.7 448.9,815.0"/>
<polyline points="451.4,746.0 452.6,747.9 453.3,750.0 454.9,752.5 456.5,755.1 458.5,756.1 460.2,757.6 462.7,756.9 465.2,756.3 467.2,754.6 469.0,752.6 470.0,750.1 470.3,747.5 469.9,745.0 469.7,742.5 469.0,740.0"/>
<polyline points="465.2,756.9 484.7,756.9 496.0,756.3"/>
<polyline points="484.7,756.9 484.7,787.7"/>
<polyline points="455.2,796.5 457.9,797.4 460.2,799.0 462.7,798.3 465.2,797.8 467.6,799.4 470.3,800.3 472.7,799.3 475.3,799.0 477.8,797.1 480.3,795.2 482.3,793.6 484.7,792.7 487.7,793.6 490.4,795.2 493.3,794.3 496.0,792.7"/>
<polyline points="436.4,815.0 437.3,817.1 438.9,818.8 437.8,821.9 437.0,825.0 436.0,827.1 434.5,828.8 434.0,831.4 433.2,833.8 432.5,836.4 431.3,838.9 430.0,841.3 428.8,843.9 427.8,845.9 427.2,848.1 426.3,850.2 424.4,852.7 422.6,855.2 421.8,857.4 420.4,859.3 419.4,861.5 418.7,864.6 418.8,867.7 419.0,870.3 420.0,872.7 420.0,875.3 419.2,877.8 418.2,880.2 417.5,882.8 416.9,885.3 415.5,887.4 415.0,890.0"/>
<polyline points="410.0,827.3 430.1,827.3 429.5,829.3 428.8,831.3 431.0,831.5 433.2,831.3"/>
<polyline points="437.0,825.7 496.0,825.7"/>
<polyline points="428.8,845.8 496.0,845.8"/>
<polyline points="450.2,845.8 448.3,865.2 447.0,877.8 446.4,890.0"/>
<polyline points="477.2,845.8 480.3,862.7 482.8,871.5 482.2,882.8 482.1,885.2 481.3,887.5 481.6,890.0"/>
<polyline points="410.0,870.2 412.9,870.5 415.9,870.3 418.8,870.2"/>
<polyline points="544.3,740.0 544.7,737.8 545.6,735.9 547.8,735.3 550.0,734.7 553.1,733.9 556.3,734.1 558.8,733.9 561.3,734.0 563.8,733.4 566.3,732.9 568.8,733.0 571.3,732.8 572.9,731.5 574.5,730.3 574.7,727.8 575.1,725.3 576.5,722.8 577.6,720.2 579.4,718.8 580.7,717.0 582.0,715.2"/>
<polyline points="622.6,710.7 624.1,708.4 625.6,706.2 628.0,705.8 630.1,704.7 631.9,701.9 633.9,699.4 634.8,696.7 635.5,693.9 636.1,691.1 637.6,688.7 638.9,686.3 639.9,683.6 640.9,681.5 642.5,679.7 643.7,677.6 645.5,675.7 647.4,673.8 648.4,675.4 649.7,676.8 652.0,676.9 654.2,676.1 656.1,675.8 657.9,675.3 660.2,677.3 661.7,679.8 661.7,682.6 661.5,685.4 661.7,688.1 662.5,700.2 663.7,701.6 665.5,702.4 665.7,705.1 666.2,707.7 667.5,709.0 669.2,709.9 670.4,711.6 670.7,713.7 668.2,714.9 666.2,716.7 663.2,717.2 660.2,718.2 657.2,717.4 654.2,716.7 652.4,717.9 651.2,719.7 649.4,721.8 648.2,724.2 646.4,726.0 644.0,727.0 642.2,728.7 639.7,730.8 637.6,733.2 635.6,735.7 633.1,737.7 631.5,738.7 630.1,740.0"/>
<polyline points="582.0,714.4 584.3,712.6 586.5,710.7 622.6,710.4"/>
<polyline points="603.8,710.4 604.3,724.2 604.6,740.0"/>
<polyline points="622.6,710.7 619.6,721.2 618.6,723.8 616.8,726.1 615.8,728.7 614.3,740.0"/>
<polyline points="627.1,706.2 627.9,719.7 628.6,730.2 629.4,732.7 629.5,735.3 630.1,737.7"/>
<polyline points="537.4,753.2 582.0,753.2"/>
<polyline points="503.5,760.1 506.7,761.0 509.8,762.0 518.6,758.8 521.0,757.4 523.6,756.4 526.1,755.1 528.6,753.8 531.0,752.3 533.7,751.3 535.8,750.4 537.4,748.8 539.3,747.2 541.4,745.9 543.7,745.0 546.2,743.1 548.7,741.3"/>
<polyline points="524.9,783.9 523.7,786.3 523.0,789.0 520.6,790.5 518.3,792.1 516.1,794.0 514.2,794.6 512.3,795.2 509.7,797.0 507.3,799.0 504.2,799.2 501.0,799.0 498.5,798.9 496.0,798.4"/>
<polyline points="532.4,811.6 533.7,809.5 534.6,807.2 536.2,805.3 537.8,802.5 539.9,800.3 542.0,798.5 543.7,796.5 544.7,794.3 546.4,792.4 547.5,790.2 549.6,787.9 551.2,785.2 553.1,784.8 555.0,784.6"/>
<polyline points="539.3,784.9 578.9,784.6"/>
<polyline points="537.4,753.2 538.1,785.2"/>
<polyline points="582.0,753.5 583.4,755.1 585.0,756.5 585.8,758.7 586.7,760.7 588.0,762.6"/>
<polyline points="602.3,750.5 603.0,753.5 603.1,756.5 605.2,755.5 607.6,755.0"/>
<polyline points="612.1,768.6 614.5,767.5 617.1,766.5 619.6,765.6 631.6,759.5 633.0,758.6 634.6,758.0"/>
<polyline points="633.1,756.5 635.2,757.3 636.9,758.8 638.0,760.7 639.1,762.6"/>
<polyline points="588.0,792.6 587.1,795.1 587.1,797.7 586.5,800.2 585.5,802.6 584.6,805.2 583.5,807.7"/>
<polyline points="517.3,826.6 577.6,826.0 578.3,828.7 578.9,831.3 577.3,833.7 576.4,836.3 577.8,838.1 578.9,840.1 577.5,842.6 576.4,845.1"/>
<polyline points="571.3,846.4 568.8,847.7 566.3,848.9 563.8,850.8 561.3,852.7 558.6,854.2 556.3,856.4 554.0,858.3 551.2,859.6 548.6,860.2 546.2,861.5 545.1,863.4 543.7,865.2 541.7,867.7 539.9,870.2 537.7,871.7 535.7,873.5 533.7,875.3 531.2,876.6 528.6,877.8 526.6,878.8 524.9,880.3 523.0,882.8 523.1,885.2 522.5,887.6 522.4,890.0"/>
<polyline points="521.1,844.5 523.6,844.6 526.1,844.9 528.6,845.1 531.0,846.4 533.7,847.0 536.1,847.9 538.7,848.3 546.2,857.7"/>
<polyline points="507.3,856.4 508.9,858.6 510.8,860.5 512.3,862.7 514.2,864.7 515.7,866.9 517.3,869.0 518.4,871.0 519.2,873.1 519.9,875.3 521.1,878.0 523.0,880.3"/>
<polyline points="496.0,846.4 498.0,845.2 500.3,845.0 502.3,843.9 504.7,841.9 507.3,840.1 508.9,838.3 510.5,836.6 512.3,835.1 513.7,833.1 515.6,831.7 517.3,830.1 517.4,828.3 518.0,826.6"/>
<polyline points="389.3,885.0 390.6,887.5 391.8,890.0 392.9,893.1 393.7,896.3 392.7,899.4 392.4,902.6 391.7,904.4 391.8,906.3"/>
<polyline points="391.8,906.3 394.3,908.2 396.8,910.1 399.9,911.2 403.1,912.0 405.4,912.6 407.7,912.3 410.0,912.6"/>
<polyline points="391.8,906.3 390.4,908.3 388.6,909.9 386.8,911.4 384.9,913.3 382.5,914.6 380.5,916.4 378.5,917.7 376.4,919.0 374.2,920.2 371.6,921.4 369.3,923.3 366.7,924.5 364.5,925.6 362.4,927.0 360.4,928.3 358.8,930.3 356.8,931.9 355.4,934.0 354.7,936.1 353.4,938.0 352.9,940.2 352.2,943.3 352.2,946.5 353.5,948.4 354.8,950.3 354.9,952.8 355.4,955.3"/>
<polyline points="324.0,928.3 325.2,930.7 327.1,932.7 328.8,935.4 330.9,937.7 331.5,939.9 332.3,942.0 333.4,944.0 334.7,946.7 336.6,949.0 339.0,950.2 341.6,950.9 344.6,952.3 347.9,952.8 350.4,953.5 352.8,954.6 355.4,955.3"/>
<polyline points="240.8,890.0 240.8,891.6 238.0,891.6"/>
<polyline points="259.6,886.3 261.2,888.6 263.1,890.7 264.9,892.0 266.5,893.5 268.1,895.1 270.4,896.3 272.1,898.3 274.4,899.5 276.1,901.9 277.5,904.5 277.9,907.0 278.2,909.5 279.5,911.6 281.3,913.3 283.7,914.3 285.7,915.8 288.1,917.1 290.7,917.7 293.2,916.7 295.8,916.4 296.3,913.7 297.6,911.4 299.8,910.3 302.0,909.5 304.6,909.6 307.1,909.9 309.2,910.4 311.4,910.1 312.8,911.9 314.6,913.3 316.3,915.0 318.4,916.4 319.4,918.5 320.4,920.6 321.5,922.7 323.0,925.4 324.0,928.3"/>
<polyline points="415.0,885.0 414.1,888.1 413.8,891.3 413.6,893.8 413.1,896.3"/>
<polyline points="410.0,912.0 411.9,911.8 413.8,912.0 415.6,913.7 417.5,915.1 420.1,915.5 422.6,916.4 425.7,916.5 428.8,917.0 429.8,915.6 430.1,913.9 432.7,914.2 435.1,915.1 437.8,916.1 440.1,917.6 437.6,918.9 435.3,917.5 433.2,915.8"/>
<polyline points="433.9,896.3 433.8,898.8 433.2,901.3 435.5,901.2 437.8,901.1 440.1,901.3 442.6,901.0 445.1,900.7 447.7,900.7"/>
<polyline points="446.4,885.0 447.0,896.3"/>
<polyline points="455.8,895.7 465.2,895.7 467.8,895.6 470.3,896.2 472.8,896.3 482.8,896.9 496.0,897.6"/>
<polyline points="482.2,885.0 483.4,896.3"/>
<polyline points="447.7,905.1 457.7,905.7 467.8,903.8 470.3,904.3 472.8,905.1 475.4,906.9 477.8,908.9 479.6,909.4 481.6,909.5 484.6,908.2 487.8,907.6 490.5,906.9 493.3,907.1 496.0,906.3"/>
<polyline points="496.0,899.4 498.5,899.8 501.0,900.5 503.5,900.7 505.8,900.5 507.9,901.0 510.1,901.5 512.3,901.3 512.8,899.7 513.6,898.2 516.7,897.6"/>
<polyline points="522.4,885.0 521.5,888.1 521.1,891.3 520.9,893.5 520.9,895.7 520.2,897.8 520.5,900.1 521.7,910.1 526.1,921.4 532.4,931.5 535.5,940.2 536.2,950.3 536.0,952.5 535.6,954.7 535.1,956.9 534.9,959.1 533.8,961.0 532.4,962.8 530.6,964.5 529.3,966.6"/>
<polyline points="496.0,907.6 497.8,910.2 499.8,912.6 501.4,914.4 503.1,916.0 504.8,917.6 505.7,920.3 507.3,922.7 506.2,925.1 505.7,927.6 505.4,930.2 505.2,932.7 505.1,935.2 504.8,937.7 506.4,939.8 508.5,941.7 509.8,944.0 511.0,946.0 511.1,948.4 512.3,950.3 513.9,952.3 514.8,954.7 517.2,955.7 519.9,955.9 521.0,958.2 522.4,960.3 523.0,962.4 524.2,964.1 526.9,964.4 529.3,965.4"/>
<polyline points="232.3,820.5 232.5,831.0"/>
<polyline points="149.6,693.9 150.6,695.7 152.4,697.3 154.0,699.1 154.4,701.2 155.3,703.1"/>
<polyline points="486.2,696.2 488.4,697.1 490.1,698.8 492.1,700.3 493.7,702.2 495.4,704.1 497.4,706.1 499.1,708.3 500.6,710.6 500.2,713.3 500.5,715.9 499.9,718.5 498.3,720.3 497.3,722.5 496.2,724.6 496.8,727.2 496.7,729.8 498.9,728.4 500.6,726.4 503.7,726.6 506.7,727.2 508.3,730.1 509.8,733.0 510.1,736.3 510.4,739.5 509.4,742.7 507.7,745.6 506.2,747.8 504.6,750.1 502.9,752.3 500.6,754.0 499.6,756.1 498.0,757.9"/>
<polyline points="71.1,663.3 71.3,665.7 71.9,668.1 72.8,670.3 74.8,680.4 75.3,690.4 76.6,693.4 75.8,703.0 75.7,705.2 75.4,707.4 75.1,709.6 75.3,711.8 75.0,714.1 74.1,716.3"/>
<polyline points="76.6,693.4 79.7,693.4 82.9,693.4 85.5,694.8 87.9,696.7"/>
</g>
<g class="m">
<path d="M70.4 657.6l3.3 6.4h-6.6Z" fill="#ddeef8"/>
<rect x="88.6" y="655.4" width="6.3" height="6.3" fill="#ddeef8"/>
<circle cx="90.2" cy="680.8" r="3.3" fill="#ddeef8"/>
<circle cx="100.3" cy="683.9" r="3.3" fill="#ddeef8"/>
<circle cx="145.5" cy="671.0" r="3.3" fill="#ddeef8"/>
<circle cx="126.3" cy="692.7" r="3.3" fill="#a5cfe1"/>
<circle cx="125.9" cy="698.4" r="3.3" fill="#ddeef8"/>
<path d="M139.7 689.6l3.3 6.4h-6.6Z" fill="#ddeef8"/>
<circle cx="105.8" cy="701.5" r="3.3" fill="#ddeef8"/>
<rect x="86.1" y="695.9" width="6.3" height="6.3" fill="#ddeef8"/>
<circle cx="91.7" cy="707.2" r="3.3" fill="#a5cfe1"/>
<circle cx="89.2" cy="704.7" r="3.3" fill="#ddeef8"/>
<rect x="84.2" y="709.0" width="6.3" height="6.3" fill="#ddeef8"/>
<circle cx="86.1" cy="724.6" r="3.3" fill="#ddeef8"/>
<circle cx="105.2" cy="724.6" r="3.3" fill="#ddeef8"/>
<path d="M89.3 747.3l3.3 6.4h-6.6Z" fill="#ddeef8"/>
<circle cx="157.1" cy="731.1" r="3.3" fill="#a5cfe1"/>
<circle cx="185.3" cy="732.6" r="3.3" fill="#ddeef8"/>
<circle cx="196.6" cy="740.9" r="3.3" fill="#ddeef8"/>
<circle cx="216.1" cy="726.1" r="3.3" fill="#ddeef8"/>
<circle cx="232.5" cy="717.6" r="3.3" fill="#ddeef8"/>
<circle cx="224.2" cy="743.2" r="3.3" fill="#ddeef8"/>
<rect x="71.9" y="767.7" width="6.3" height="6.3" fill="#ddeef8"/>
<circle cx="167.7" cy="771.1" r="3.3" fill="#ddeef8"/>
<circle cx="199.8" cy="757.7" r="3.3" fill="#ddeef8"/>
<circle cx="202.8" cy="756.5" r="3.3" fill="#ddeef8"/>
<circle cx="202.8" cy="767.8" r="3.3" fill="#0a1a35"/>
<circle cx="201.6" cy="763.3" r="3.3" fill="#a5cfe1"/>
<circle cx="202.8" cy="772.3" r="3.3" fill="#a5cfe1"/>
<circle cx="197.8" cy="772.8" r="3.3" fill="#ddeef8"/>
<circle cx="204.8" cy="777.8" r="3.3" fill="#ddeef8"/>
<circle cx="211.6" cy="761.5" r="3.3" fill="#ddeef8"/>
<circle cx="216.6" cy="756.5" r="3.3" fill="#ddeef8"/>
<circle cx="233.0" cy="759.8" r="3.3" fill="#ddeef8"/>
<circle cx="221.7" cy="777.1" r="3.3" fill="#ddeef8"/>
<circle cx="227.4" cy="774.1" r="3.3" fill="#ddeef8"/>
<circle cx="214.1" cy="786.6" r="3.3" fill="#ddeef8"/>
<circle cx="178.5" cy="794.4" r="3.3" fill="#ddeef8"/>
<circle cx="224.2" cy="805.4" r="3.3" fill="#ddeef8"/>
<circle cx="232.5" cy="802.4" r="3.3" fill="#ddeef8"/>
<circle cx="205.3" cy="810.0" r="3.3" fill="#ddeef8"/>
<circle cx="190.3" cy="810.5" r="3.3" fill="#ddeef8"/>
<circle cx="188.5" cy="818.0" r="3.3" fill="#ddeef8"/>
<circle cx="173.5" cy="828.0" r="3.3" fill="#ddeef8"/>
<circle cx="140.6" cy="819.3" r="3.3" fill="#ddeef8"/>
<circle cx="223.4" cy="848.1" r="3.3" fill="#ddeef8"/>
<circle cx="93.6" cy="772.9" r="3.3" fill="#5a9bc9"/>
<circle cx="95.8" cy="777.6" r="3.3" fill="#0a1a35"/>
<circle cx="100.5" cy="783.9" r="3.3" fill="#a5cfe1"/>
<circle cx="95.8" cy="787.0" r="3.3" fill="#ddeef8"/>
<circle cx="100.5" cy="792.0" r="3.3" fill="#ddeef8"/>
<circle cx="108.7" cy="790.1" r="3.3" fill="#0a1a35"/>
<circle cx="84.8" cy="792.4" r="3.3" fill="#ddeef8"/>
<circle cx="111.8" cy="796.8" r="3.3" fill="#0a1a35"/>
<circle cx="106.8" cy="795.2" r="3.3" fill="#ddeef8"/>
<circle cx="104.3" cy="800.2" r="3.3" fill="#5a9bc9"/>
<circle cx="99.9" cy="799.5" r="3.3" fill="#ddeef8"/>
<path d="M88.3 793.3l3.3 6.4h-6.6Z" fill="#ddeef8"/>
<rect x="85.4" y="797.0" width="6.3" height="6.3" fill="#ddeef8"/>
<circle cx="96.5" cy="803.9" r="3.3" fill="#a5cfe1"/>
<circle cx="110.8" cy="804.2" r="3.3" fill="#0a1a35"/>
<circle cx="114.3" cy="807.5" r="3.3" fill="#5a9bc9"/>
<rect x="88.6" y="805.2" width="6.3" height="6.3" fill="#ddeef8"/>
<circle cx="104.0" cy="809.2" r="3.3" fill="#0a1a35"/>
<path d="M98.4 807.1l3.3 6.4h-6.6Z" fill="#a5cfe1"/>
<circle cx="120.6" cy="812.1" r="3.3" fill="#3059a2"/>
<circle cx="108.7" cy="813.4" r="3.3" fill="#0a1a35"/>
<path d="M95.3 810.9l3.3 6.4h-6.6Z" fill="#ddeef8"/>
<circle cx="113.7" cy="817.1" r="3.3" fill="#0a1a35"/>
<circle cx="100.5" cy="818.0" r="3.3" fill="#5a9bc9"/>
<rect x="94.2" y="817.7" width="6.3" height="6.3" fill="#ddeef8"/>
<circle cx="118.1" cy="821.5" r="3.3" fill="#0a1a35"/>
<circle cx="121.2" cy="824.0" r="3.3" fill="#0a1a35"/>
<circle cx="105.3" cy="824.7" r="3.3" fill="#ddeef8"/>
<circle cx="129.2" cy="827.2" r="3.3" fill="#0a1a35"/>
<circle cx="121.2" cy="829.7" r="3.3" fill="#0a1a35"/>
<path d="M102.4 825.3l3.3 6.4h-6.6Z" fill="#ddeef8"/>
<circle cx="120.6" cy="792.4" r="3.3" fill="#ddeef8"/>
<circle cx="120.6" cy="787.9" r="3.3" fill="#ddeef8"/>
<circle cx="126.3" cy="786.1" r="3.3" fill="#ddeef8"/>
<circle cx="131.3" cy="787.9" r="3.3" fill="#ddeef8"/>
<circle cx="110.7" cy="841.3" r="3.3" fill="#ddeef8"/>
<circle cx="130.8" cy="844.3" r="3.3" fill="#0a1a35"/>
<path d="M117.5 847.6l3.3 6.4h-6.6Z" fill="#ddeef8"/>
<circle cx="130.5" cy="855.1" r="3.3" fill="#ddeef8"/>
<circle cx="138.1" cy="856.9" r="3.3" fill="#a5cfe1"/>
<circle cx="147.6" cy="851.8" r="3.3" fill="#0a1a35"/>
<rect x="137.4" y="858.7" width="6.3" height="6.3" fill="#5a9bc9"/>
<circle cx="155.6" cy="862.4" r="3.3" fill="#0a1a35"/>
<path d="M149.6 870.7l3.3 6.4h-6.6Z" fill="#a5cfe1"/>
<path d="M164.4 870.2l3.3 6.4h-6.6Z" fill="#a5cfe1"/>
<rect x="170.8" y="872.0" width="6.3" height="6.3" fill="#a5cfe1"/>
<circle cx="185.3" cy="855.9" r="3.3" fill="#ddeef8"/>
<circle cx="196.6" cy="851.8" r="3.3" fill="#ddeef8"/>
<circle cx="223.4" cy="848.3" r="3.3" fill="#ddeef8"/>
<circle cx="201.6" cy="865.7" r="3.3" fill="#0a1a35"/>
<circle cx="210.9" cy="862.6" r="3.3" fill="#0a1a35"/>
<circle cx="204.8" cy="868.9" r="3.3" fill="#3059a2"/>
<circle cx="214.1" cy="881.2" r="3.3" fill="#ddeef8"/>
<circle cx="228.7" cy="883.2" r="3.3" fill="#ddeef8"/>
<circle cx="180.9" cy="657.7" r="3.3" fill="#ddeef8"/>
<circle cx="244.4" cy="660.5" r="3.3" fill="#ddeef8"/>
<circle cx="301.4" cy="655.2" r="3.3" fill="#ddeef8"/>
<circle cx="288.3" cy="663.0" r="3.3" fill="#ddeef8"/>
<circle cx="278.8" cy="667.8" r="3.3" fill="#ddeef8"/>
<circle cx="310.2" cy="666.5" r="3.3" fill="#ddeef8"/>
<circle cx="292.1" cy="672.1" r="3.3" fill="#ddeef8"/>
<circle cx="299.6" cy="675.3" r="3.3" fill="#ddeef8"/>
<path d="M307.7 672.9l3.3 6.4h-6.6Z" fill="#ddeef8"/>
<circle cx="311.4" cy="677.8" r="3.3" fill="#ddeef8"/>
<circle cx="318.5" cy="683.4" r="3.3" fill="#ddeef8"/>
<circle cx="291.3" cy="682.3" r="3.3" fill="#ddeef8"/>
<circle cx="180.9" cy="682.9" r="3.3" fill="#ddeef8"/>
<circle cx="201.7" cy="682.9" r="3.3" fill="#ddeef8"/>
<circle cx="227.8" cy="679.8" r="3.3" fill="#ddeef8"/>
<circle cx="160.0" cy="691.6" r="3.3" fill="#ddeef8"/>
<circle cx="265.7" cy="689.4" r="3.3" fill="#ddeef8"/>
<circle cx="270.5" cy="703.7" r="3.3" fill="#ddeef8"/>
<circle cx="258.7" cy="704.9" r="3.3" fill="#ddeef8"/>
<circle cx="254.4" cy="712.5" r="3.3" fill="#ddeef8"/>
<circle cx="242.6" cy="721.3" r="3.3" fill="#ddeef8"/>
<circle cx="270.0" cy="719.3" r="3.3" fill="#ddeef8"/>
<circle cx="292.1" cy="722.8" r="3.3" fill="#ddeef8"/>
<circle cx="282.6" cy="726.8" r="3.3" fill="#ddeef8"/>
<circle cx="290.1" cy="731.3" r="3.3" fill="#ddeef8"/>
<circle cx="306.2" cy="728.8" r="3.3" fill="#ddeef8"/>
<circle cx="240.9" cy="741.1" r="3.3" fill="#ddeef8"/>
<circle cx="260.7" cy="741.9" r="3.3" fill="#ddeef8"/>
<circle cx="270.0" cy="739.8" r="3.3" fill="#ddeef8"/>
<circle cx="283.2" cy="752.6" r="3.3" fill="#ddeef8"/>
<circle cx="249.9" cy="759.2" r="3.3" fill="#ddeef8"/>
<circle cx="265.9" cy="762.6" r="3.3" fill="#ddeef8"/>
<circle cx="277.8" cy="765.4" r="3.3" fill="#ddeef8"/>
<circle cx="260.6" cy="771.0" r="3.3" fill="#ddeef8"/>
<circle cx="267.8" cy="773.3" r="3.3" fill="#ddeef8"/>
<circle cx="280.1" cy="773.9" r="3.3" fill="#ddeef8"/>
<circle cx="238.6" cy="776.4" r="3.3" fill="#ddeef8"/>
<circle cx="240.5" cy="780.8" r="3.3" fill="#ddeef8"/>
<circle cx="260.2" cy="780.2" r="3.3" fill="#ddeef8"/>
<circle cx="248.0" cy="784.8" r="3.3" fill="#ddeef8"/>
<circle cx="272.5" cy="780.8" r="3.3" fill="#ddeef8"/>
<circle cx="268.1" cy="783.9" r="3.3" fill="#ddeef8"/>
<circle cx="276.9" cy="785.8" r="3.3" fill="#ddeef8"/>
<circle cx="272.5" cy="784.6" r="3.3" fill="#a5cfe1"/>
<circle cx="265.4" cy="789.8" r="3.3" fill="#ddeef8"/>
<circle cx="273.5" cy="792.7" r="3.3" fill="#ddeef8"/>
<circle cx="276.3" cy="795.9" r="3.3" fill="#ddeef8"/>
<circle cx="264.0" cy="795.2" r="3.3" fill="#ddeef8"/>
<circle cx="242.4" cy="792.4" r="3.3" fill="#ddeef8"/>
<circle cx="247.0" cy="795.9" r="3.3" fill="#ddeef8"/>
<path d="M252.8 790.9l3.3 6.4h-6.6Z" fill="#ddeef8"/>
<circle cx="240.5" cy="805.7" r="3.3" fill="#ddeef8"/>
<circle cx="358.5" cy="742.5" r="3.3" fill="#ddeef8"/>
<circle cx="404.4" cy="743.1" r="3.3" fill="#ddeef8"/>
<circle cx="368.8" cy="756.1" r="3.3" fill="#ddeef8"/>
<circle cx="392.4" cy="757.6" r="3.3" fill="#ddeef8"/>
<circle cx="392.2" cy="755.1" r="3.3" fill="#ddeef8"/>
<circle cx="368.6" cy="763.5" r="3.3" fill="#ddeef8"/>
<circle cx="361.0" cy="767.4" r="3.3" fill="#ddeef8"/>
<path d="M378.4 764.5l3.3 6.4h-6.6Z" fill="#ddeef8"/>
<circle cx="409.4" cy="771.4" r="3.3" fill="#ddeef8"/>
<circle cx="380.1" cy="781.1" r="3.3" fill="#ddeef8"/>
<circle cx="385.5" cy="789.6" r="3.3" fill="#ddeef8"/>
<circle cx="383.3" cy="787.1" r="3.3" fill="#ddeef8"/>
<circle cx="382.1" cy="792.7" r="3.3" fill="#a5cfe1"/>
<circle cx="382.6" cy="797.8" r="3.3" fill="#ddeef8"/>
<circle cx="371.1" cy="794.0" r="3.3" fill="#ddeef8"/>
<circle cx="329.0" cy="797.1" r="3.3" fill="#ddeef8"/>
<path d="M406.9 790.3l3.3 6.4h-6.6Z" fill="#ddeef8"/>
<circle cx="353.5" cy="809.7" r="3.3" fill="#ddeef8"/>
<circle cx="354.1" cy="814.1" r="3.3" fill="#ddeef8"/>
<circle cx="373.3" cy="811.6" r="3.3" fill="#ddeef8"/>
<circle cx="388.4" cy="811.2" r="3.3" fill="#ddeef8"/>
<circle cx="238.6" cy="817.5" r="3.3" fill="#ddeef8"/>
<circle cx="251.2" cy="817.8" r="3.3" fill="#ddeef8"/>
<circle cx="246.8" cy="818.1" r="3.3" fill="#ddeef8"/>
<circle cx="244.9" cy="826.7" r="3.3" fill="#ddeef8"/>
<circle cx="263.1" cy="838.2" r="3.3" fill="#ddeef8"/>
<circle cx="258.1" cy="844.5" r="3.3" fill="#ddeef8"/>
<circle cx="256.2" cy="848.3" r="3.3" fill="#ddeef8"/>
<circle cx="309.2" cy="847.6" r="3.3" fill="#ddeef8"/>
<circle cx="293.9" cy="874.4" r="3.3" fill="#ddeef8"/>
<circle cx="280.7" cy="880.3" r="3.3" fill="#0a1a35"/>
<circle cx="276.3" cy="884.7" r="3.3" fill="#ddeef8"/>
<circle cx="259.3" cy="886.2" r="3.3" fill="#ddeef8"/>
<circle cx="372.3" cy="820.6" r="3.3" fill="#5a9bc9"/>
<path d="M369.2 818.8l3.3 6.4h-6.6Z" fill="#ddeef8"/>
<path d="M367.3 823.2l3.3 6.4h-6.6Z" fill="#0a1a35"/>
<circle cx="380.9" cy="822.2" r="3.3" fill="#ddeef8"/>
<circle cx="384.9" cy="817.5" r="3.3" fill="#ddeef8"/>
<circle cx="396.8" cy="816.9" r="3.3" fill="#ddeef8"/>
<circle cx="397.2" cy="824.4" r="3.3" fill="#ddeef8"/>
<circle cx="337.4" cy="831.3" r="3.3" fill="#a5cfe1"/>
<circle cx="364.2" cy="831.9" r="3.3" fill="#a5cfe1"/>
<circle cx="368.6" cy="831.3" r="3.3" fill="#a5cfe1"/>
<circle cx="375.9" cy="830.4" r="3.3" fill="#ddeef8"/>
<rect x="384.5" y="827.9" width="6.3" height="6.3" fill="#ddeef8"/>
<rect x="394.3" y="831.9" width="6.3" height="6.3" fill="#ddeef8"/>
<circle cx="381.8" cy="836.3" r="3.3" fill="#a5cfe1"/>
<circle cx="383.4" cy="841.0" r="3.3" fill="#ddeef8"/>
<circle cx="349.1" cy="839.5" r="3.3" fill="#a5cfe1"/>
<circle cx="353.3" cy="839.5" r="3.3" fill="#3059a2"/>
<path d="M357.6 837.7l3.3 6.4h-6.6Z" fill="#ddeef8"/>
<circle cx="344.7" cy="844.8" r="3.3" fill="#ddeef8"/>
<circle cx="352.6" cy="845.1" r="3.3" fill="#ddeef8"/>
<circle cx="361.0" cy="848.6" r="3.3" fill="#ddeef8"/>
<circle cx="370.2" cy="847.4" r="3.3" fill="#a5cfe1"/>
<circle cx="342.8" cy="850.8" r="3.3" fill="#a5cfe1"/>
<circle cx="406.9" cy="848.6" r="3.3" fill="#ddeef8"/>
<rect x="384.5" y="849.5" width="6.3" height="6.3" fill="#ddeef8"/>
<path d="M398.3 853.3l3.3 6.4h-6.6Z" fill="#ddeef8"/>
<path d="M344.1 851.5l3.3 6.4h-6.6Z" fill="#ddeef8"/>
<path d="M347.2 853.3l3.3 6.4h-6.6Z" fill="#ddeef8"/>
<path d="M352.9 851.5l3.3 6.4h-6.6Z" fill="#ddeef8"/>
<path d="M361.4 852.1l3.3 6.4h-6.6Z" fill="#ddeef8"/>
<circle cx="375.2" cy="856.7" r="3.3" fill="#ddeef8"/>
<circle cx="354.8" cy="859.9" r="3.3" fill="#ddeef8"/>
<path d="M364.2 856.5l3.3 6.4h-6.6Z" fill="#ddeef8"/>
<circle cx="357.3" cy="866.5" r="3.3" fill="#0a1a35"/>
<path d="M367.3 865.9l3.3 6.4h-6.6Z" fill="#5a9bc9"/>
<circle cx="348.1" cy="872.5" r="3.3" fill="#a5cfe1"/>
<circle cx="359.2" cy="872.8" r="3.3" fill="#0a1a35"/>
<circle cx="353.8" cy="872.1" r="3.3" fill="#3059a2"/>
<circle cx="363.3" cy="871.9" r="3.3" fill="#a5cfe1"/>
<path d="M349.1 874.7l3.3 6.4h-6.6Z" fill="#0a1a35"/>
<path d="M357.9 875.9l3.3 6.4h-6.6Z" fill="#a5cfe1"/>
<path d="M363.9 879.1l3.3 6.4h-6.6Z" fill="#ddeef8"/>
<path d="M374.2 875.3l3.3 6.4h-6.6Z" fill="#a5cfe1"/>
<rect x="378.2" y="875.3" width="6.3" height="6.3" fill="#a5cfe1"/>
<circle cx="387.2" cy="875.3" r="3.3" fill="#ddeef8"/>
<path d="M391.8 872.2l3.3 6.4h-6.6Z" fill="#ddeef8"/>
<rect x="405.0" y="874.0" width="6.3" height="6.3" fill="#ddeef8"/>
<path d="M357.3 884.1l3.3 6.4h-6.6Z" fill="#ddeef8"/>
<rect x="401.6" y="668.2" width="6.3" height="6.3" fill="#ddeef8"/>
<circle cx="359.2" cy="681.8" r="3.3" fill="#ddeef8"/>
<circle cx="369.6" cy="683.1" r="3.3" fill="#ddeef8"/>
<circle cx="404.4" cy="685.2" r="3.3" fill="#ddeef8"/>
<circle cx="387.4" cy="690.0" r="3.3" fill="#ddeef8"/>
<circle cx="391.4" cy="692.7" r="3.3" fill="#ddeef8"/>
<circle cx="387.4" cy="702.8" r="3.3" fill="#ddeef8"/>
<circle cx="397.4" cy="706.5" r="3.3" fill="#ddeef8"/>
<circle cx="392.4" cy="707.8" r="3.3" fill="#ddeef8"/>
<path d="M401.8 705.1l3.3 6.4h-6.6Z" fill="#ddeef8"/>
<circle cx="393.9" cy="713.8" r="3.3" fill="#ddeef8"/>
<circle cx="399.1" cy="718.5" r="3.3" fill="#ddeef8"/>
<circle cx="405.2" cy="725.4" r="3.3" fill="#ddeef8"/>
<circle cx="356.3" cy="711.9" r="3.3" fill="#ddeef8"/>
<circle cx="359.8" cy="720.1" r="3.3" fill="#ddeef8"/>
<circle cx="370.1" cy="718.8" r="3.3" fill="#ddeef8"/>
<circle cx="360.4" cy="731.3" r="3.3" fill="#ddeef8"/>
<circle cx="381.8" cy="737.3" r="3.3" fill="#ddeef8"/>
<path d="M415.0 663.0l3.3 6.4h-6.6Z" fill="#ddeef8"/>
<path d="M423.6 683.6l3.3 6.4h-6.6Z" fill="#ddeef8"/>
<path d="M434.2 691.9l3.3 6.4h-6.6Z" fill="#ddeef8"/>
<path d="M443.0 699.1l3.3 6.4h-6.6Z" fill="#ddeef8"/>
<path d="M433.0 712.0l3.3 6.4h-6.6Z" fill="#ddeef8"/>
<circle cx="424.4" cy="707.5" r="3.3" fill="#ddeef8"/>
<circle cx="415.6" cy="714.1" r="3.3" fill="#ddeef8"/>
<circle cx="472.5" cy="691.5" r="3.3" fill="#ddeef8"/>
<circle cx="489.3" cy="688.3" r="3.3" fill="#ddeef8"/>
<circle cx="461.5" cy="707.2" r="3.3" fill="#ddeef8"/>
<circle cx="471.1" cy="716.0" r="3.3" fill="#ddeef8"/>
<circle cx="452.3" cy="717.2" r="3.3" fill="#ddeef8"/>
<circle cx="447.3" cy="721.0" r="3.3" fill="#ddeef8"/>
<circle cx="455.4" cy="723.1" r="3.3" fill="#ddeef8"/>
<circle cx="469.6" cy="720.4" r="3.3" fill="#ddeef8"/>
<circle cx="475.0" cy="722.6" r="3.3" fill="#ddeef8"/>
<circle cx="483.7" cy="720.7" r="3.3" fill="#ddeef8"/>
<circle cx="469.3" cy="726.0" r="3.3" fill="#ddeef8"/>
<circle cx="452.7" cy="733.5" r="3.3" fill="#ddeef8"/>
<circle cx="443.9" cy="733.5" r="3.3" fill="#ddeef8"/>
<circle cx="453.9" cy="728.9" r="3.3" fill="#ddeef8"/>
<circle cx="447.0" cy="729.8" r="3.3" fill="#ddeef8"/>
<circle cx="439.5" cy="735.4" r="3.3" fill="#ddeef8"/>
<circle cx="433.9" cy="733.5" r="3.3" fill="#ddeef8"/>
<circle cx="437.6" cy="737.9" r="3.3" fill="#ddeef8"/>
<circle cx="448.9" cy="738.6" r="3.3" fill="#ddeef8"/>
<circle cx="453.9" cy="737.9" r="3.3" fill="#ddeef8"/>
<circle cx="468.8" cy="735.4" r="3.3" fill="#ddeef8"/>
<circle cx="439.1" cy="744.8" r="3.3" fill="#ddeef8"/>
<circle cx="440.8" cy="748.2" r="3.3" fill="#ddeef8"/>
<circle cx="446.4" cy="745.0" r="3.3" fill="#ddeef8"/>
<circle cx="453.7" cy="747.8" r="3.3" fill="#a5cfe1"/>
<circle cx="453.3" cy="742.8" r="3.3" fill="#ddeef8"/>
<circle cx="448.9" cy="750.7" r="3.3" fill="#ddeef8"/>
<circle cx="450.8" cy="755.9" r="3.3" fill="#ddeef8"/>
<circle cx="472.1" cy="740.6" r="3.3" fill="#ddeef8"/>
<circle cx="469.0" cy="742.3" r="3.3" fill="#ddeef8"/>
<circle cx="487.2" cy="742.8" r="3.3" fill="#ddeef8"/>
<circle cx="413.8" cy="752.6" r="3.3" fill="#ddeef8"/>
<circle cx="428.8" cy="755.1" r="3.3" fill="#ddeef8"/>
<circle cx="424.8" cy="759.1" r="3.3" fill="#ddeef8"/>
<circle cx="472.1" cy="753.8" r="3.3" fill="#ddeef8"/>
<circle cx="468.4" cy="750.7" r="3.3" fill="#ddeef8"/>
<circle cx="474.7" cy="756.9" r="3.3" fill="#ddeef8"/>
<circle cx="464.6" cy="756.9" r="3.3" fill="#ddeef8"/>
<circle cx="469.0" cy="758.8" r="3.3" fill="#ddeef8"/>
<circle cx="457.1" cy="758.8" r="3.3" fill="#ddeef8"/>
<circle cx="460.5" cy="759.7" r="3.3" fill="#ddeef8"/>
<circle cx="492.9" cy="753.8" r="3.3" fill="#ddeef8"/>
<circle cx="449.3" cy="763.9" r="3.3" fill="#ddeef8"/>
<circle cx="481.9" cy="764.9" r="3.3" fill="#ddeef8"/>
<circle cx="434.7" cy="771.1" r="3.3" fill="#ddeef8"/>
<circle cx="440.8" cy="773.6" r="3.3" fill="#ddeef8"/>
<circle cx="475.7" cy="769.9" r="3.3" fill="#ddeef8"/>
<circle cx="492.2" cy="770.1" r="3.3" fill="#ddeef8"/>
<circle cx="466.5" cy="773.3" r="3.3" fill="#ddeef8"/>
<circle cx="471.1" cy="774.1" r="3.3" fill="#ddeef8"/>
<circle cx="480.3" cy="776.4" r="3.3" fill="#ddeef8"/>
<circle cx="448.3" cy="778.7" r="3.3" fill="#ddeef8"/>
<circle cx="416.3" cy="781.7" r="3.3" fill="#ddeef8"/>
<circle cx="434.5" cy="783.1" r="3.3" fill="#ddeef8"/>
<circle cx="441.8" cy="782.7" r="3.3" fill="#ddeef8"/>
<circle cx="467.8" cy="780.8" r="3.3" fill="#ddeef8"/>
<circle cx="475.9" cy="780.2" r="3.3" fill="#ddeef8"/>
<circle cx="485.3" cy="783.1" r="3.3" fill="#ddeef8"/>
<circle cx="492.2" cy="779.5" r="3.3" fill="#ddeef8"/>
<circle cx="491.6" cy="783.3" r="3.3" fill="#ddeef8"/>
<circle cx="467.1" cy="786.5" r="3.3" fill="#ddeef8"/>
<circle cx="473.8" cy="786.2" r="3.3" fill="#ddeef8"/>
<circle cx="458.0" cy="787.1" r="3.3" fill="#ddeef8"/>
<circle cx="490.4" cy="788.3" r="3.3" fill="#ddeef8"/>
<circle cx="432.6" cy="789.0" r="3.3" fill="#ddeef8"/>
<path d="M411.9 785.3l3.3 6.4h-6.6Z" fill="#ddeef8"/>
<circle cx="410.0" cy="798.0" r="3.3" fill="#ddeef8"/>
<circle cx="454.3" cy="791.5" r="3.3" fill="#ddeef8"/>
<circle cx="445.5" cy="793.1" r="3.3" fill="#ddeef8"/>
<circle cx="461.7" cy="794.4" r="3.3" fill="#ddeef8"/>
<circle cx="421.6" cy="793.4" r="3.3" fill="#ddeef8"/>
<circle cx="426.9" cy="793.4" r="3.3" fill="#ddeef8"/>
<circle cx="475.3" cy="790.2" r="3.3" fill="#ddeef8"/>
<circle cx="471.5" cy="794.9" r="3.3" fill="#ddeef8"/>
<circle cx="487.2" cy="790.2" r="3.3" fill="#ddeef8"/>
<circle cx="491.6" cy="792.7" r="3.3" fill="#ddeef8"/>
<circle cx="485.3" cy="794.6" r="3.3" fill="#ddeef8"/>
<circle cx="425.1" cy="797.1" r="3.3" fill="#ddeef8"/>
<circle cx="428.6" cy="798.8" r="3.3" fill="#ddeef8"/>
<circle cx="478.2" cy="801.9" r="3.3" fill="#ddeef8"/>
<circle cx="474.7" cy="805.5" r="3.3" fill="#5a9bc9"/>
<circle cx="432.6" cy="805.0" r="3.3" fill="#a5cfe1"/>
<circle cx="426.1" cy="808.7" r="3.3" fill="#ddeef8"/>
<circle cx="444.5" cy="806.2" r="3.3" fill="#ddeef8"/>
<circle cx="454.6" cy="805.9" r="3.3" fill="#ddeef8"/>
<circle cx="458.3" cy="806.5" r="3.3" fill="#ddeef8"/>
<circle cx="465.6" cy="805.9" r="3.3" fill="#ddeef8"/>
<circle cx="487.8" cy="805.9" r="3.3" fill="#ddeef8"/>
<circle cx="486.0" cy="809.1" r="3.3" fill="#ddeef8"/>
<circle cx="482.2" cy="810.9" r="3.3" fill="#ddeef8"/>
<circle cx="473.4" cy="811.6" r="3.3" fill="#ddeef8"/>
<path d="M433.2 809.1l3.3 6.4h-6.6Z" fill="#ddeef8"/>
<circle cx="448.3" cy="818.1" r="3.3" fill="#ddeef8"/>
<circle cx="445.5" cy="819.8" r="3.3" fill="#ddeef8"/>
<circle cx="458.3" cy="821.9" r="3.3" fill="#ddeef8"/>
<path d="M453.1 820.3l3.3 6.4h-6.6Z" fill="#ddeef8"/>
<circle cx="470.0" cy="819.8" r="3.3" fill="#ddeef8"/>
<circle cx="465.9" cy="824.4" r="3.3" fill="#ddeef8"/>
<circle cx="486.6" cy="819.4" r="3.3" fill="#ddeef8"/>
<circle cx="465.2" cy="829.8" r="3.3" fill="#a5cfe1"/>
<path d="M460.5 830.7l3.3 6.4h-6.6Z" fill="#ddeef8"/>
<path d="M469.0 829.5l3.3 6.4h-6.6Z" fill="#ddeef8"/>
<path d="M475.0 829.5l3.3 6.4h-6.6Z" fill="#ddeef8"/>
<rect x="491.0" y="824.4" width="6.3" height="6.3" fill="#ddeef8"/>
<path d="M490.4 830.1l3.3 6.4h-6.6Z" fill="#ddeef8"/>
<path d="M489.3 834.1l3.3 6.4h-6.6Z" fill="#ddeef8"/>
<circle cx="428.2" cy="843.6" r="3.3" fill="#ddeef8"/>
<circle cx="431.3" cy="843.9" r="3.3" fill="#ddeef8"/>
<path d="M430.7 845.4l3.3 6.4h-6.6Z" fill="#0a1a35"/>
<path d="M480.7 840.8l3.3 6.4h-6.6Z" fill="#ddeef8"/>
<rect x="451.7" y="846.0" width="6.3" height="6.3" fill="#ddeef8"/>
<path d="M465.2 845.8l3.3 6.4h-6.6Z" fill="#ddeef8"/>
<path d="M462.1 848.6l3.3 6.4h-6.6Z" fill="#ddeef8"/>
<path d="M486.3 845.2l3.3 6.4h-6.6Z" fill="#ddeef8"/>
<path d="M478.4 849.6l3.3 6.4h-6.6Z" fill="#ddeef8"/>
<path d="M472.4 851.2l3.3 6.4h-6.6Z" fill="#ddeef8"/>
<rect x="440.1" y="852.0" width="6.3" height="6.3" fill="#ddeef8"/>
<rect x="429.7" y="855.4" width="6.3" height="6.3" fill="#ddeef8"/>
<rect x="419.8" y="858.6" width="6.3" height="6.3" fill="#ddeef8"/>
<rect x="468.4" y="856.8" width="6.3" height="6.3" fill="#ddeef8"/>
<rect x="489.7" y="850.8" width="6.3" height="6.3" fill="#ddeef8"/>
<path d="M482.2 856.5l3.3 6.4h-6.6Z" fill="#ddeef8"/>
<circle cx="486.6" cy="858.3" r="3.3" fill="#ddeef8"/>
<circle cx="492.2" cy="858.9" r="3.3" fill="#ddeef8"/>
<circle cx="492.2" cy="864.0" r="3.3" fill="#ddeef8"/>
<path d="M485.3 861.5l3.3 6.4h-6.6Z" fill="#ddeef8"/>
<rect x="485.9" y="865.8" width="6.3" height="6.3" fill="#ddeef8"/>
<rect x="460.5" y="863.6" width="6.3" height="6.3" fill="#ddeef8"/>
<rect x="453.7" y="866.7" width="6.3" height="6.3" fill="#ddeef8"/>
<rect x="425.4" y="875.9" width="6.3" height="6.3" fill="#ddeef8"/>
<rect x="440.1" y="875.6" width="6.3" height="6.3" fill="#ddeef8"/>
<rect x="445.1" y="875.6" width="6.3" height="6.3" fill="#ddeef8"/>
<rect x="466.5" y="874.6" width="6.3" height="6.3" fill="#ddeef8"/>
<rect x="479.4" y="874.4" width="6.3" height="6.3" fill="#ddeef8"/>
<rect x="489.1" y="880.7" width="6.3" height="6.3" fill="#ddeef8"/>
<circle cx="507.0" cy="727.4" r="3.3" fill="#ddeef8"/>
<circle cx="499.5" cy="730.3" r="3.3" fill="#ddeef8"/>
<circle cx="497.3" cy="737.2" r="3.3" fill="#ddeef8"/>
<circle cx="509.2" cy="739.1" r="3.3" fill="#ddeef8"/>
<circle cx="576.4" cy="724.0" r="3.3" fill="#ddeef8"/>
<circle cx="550.4" cy="736.2" r="3.3" fill="#ddeef8"/>
<circle cx="560.0" cy="737.2" r="3.3" fill="#ddeef8"/>
<circle cx="563.8" cy="736.2" r="3.3" fill="#ddeef8"/>
<circle cx="571.3" cy="735.3" r="3.3" fill="#ddeef8"/>
<circle cx="576.4" cy="738.4" r="3.3" fill="#ddeef8"/>
<rect x="654.0" y="683.0" width="6.3" height="6.3" fill="#ddeef8"/>
<rect x="649.5" y="709.8" width="6.3" height="6.3" fill="#ddeef8"/>
<rect x="664.6" y="710.1" width="6.3" height="6.3" fill="#ddeef8"/>
<path d="M656.9 717.0l3.3 6.4h-6.6Z" fill="#ddeef8"/>
<path d="M589.8 707.7l3.3 6.4h-6.6Z" fill="#ddeef8"/>
<circle cx="598.2" cy="719.7" r="3.3" fill="#ddeef8"/>
<path d="M609.1 714.2l3.3 6.4h-6.6Z" fill="#ddeef8"/>
<rect x="622.5" y="717.6" width="6.3" height="6.3" fill="#ddeef8"/>
<rect x="627.0" y="717.6" width="6.3" height="6.3" fill="#ddeef8"/>
<rect x="637.8" y="718.8" width="6.3" height="6.3" fill="#ddeef8"/>
<path d="M618.1 725.0l3.3 6.4h-6.6Z" fill="#ddeef8"/>
<circle cx="607.6" cy="730.7" r="3.3" fill="#ddeef8"/>
<rect x="620.2" y="727.8" width="6.3" height="6.3" fill="#ddeef8"/>
<rect x="629.2" y="728.9" width="6.3" height="6.3" fill="#ddeef8"/>
<path d="M636.9 727.3l3.3 6.4h-6.6Z" fill="#ddeef8"/>
<path d="M640.6 723.5l3.3 6.4h-6.6Z" fill="#ddeef8"/>
<path d="M591.8 729.8l3.3 6.4h-6.6Z" fill="#ddeef8"/>
<path d="M622.6 732.5l3.3 6.4h-6.6Z" fill="#ddeef8"/>
<circle cx="600.8" cy="738.5" r="3.3" fill="#ddeef8"/>
<circle cx="615.1" cy="739.2" r="3.3" fill="#ddeef8"/>
<circle cx="509.2" cy="741.3" r="3.3" fill="#ddeef8"/>
<circle cx="504.8" cy="743.1" r="3.3" fill="#ddeef8"/>
<circle cx="502.3" cy="748.8" r="3.3" fill="#ddeef8"/>
<circle cx="497.3" cy="748.8" r="3.3" fill="#ddeef8"/>
<circle cx="497.9" cy="758.8" r="3.3" fill="#ddeef8"/>
<circle cx="497.3" cy="762.6" r="3.3" fill="#ddeef8"/>
<circle cx="547.5" cy="740.6" r="3.3" fill="#ddeef8"/>
<circle cx="541.8" cy="746.3" r="3.3" fill="#ddeef8"/>
<circle cx="534.3" cy="751.3" r="3.3" fill="#ddeef8"/>
<circle cx="528.4" cy="753.8" r="3.3" fill="#ddeef8"/>
<circle cx="575.7" cy="740.6" r="3.3" fill="#ddeef8"/>
<circle cx="569.4" cy="747.5" r="3.3" fill="#ddeef8"/>
<circle cx="563.8" cy="752.3" r="3.3" fill="#ddeef8"/>
<circle cx="571.3" cy="756.9" r="3.3" fill="#ddeef8"/>
<circle cx="566.9" cy="758.2" r="3.3" fill="#ddeef8"/>
<circle cx="566.3" cy="763.9" r="3.3" fill="#ddeef8"/>
<circle cx="578.9" cy="763.2" r="3.3" fill="#ddeef8"/>
<circle cx="520.5" cy="757.6" r="3.3" fill="#ddeef8"/>
<circle cx="512.9" cy="761.3" r="3.3" fill="#ddeef8"/>
<circle cx="532.4" cy="763.2" r="3.3" fill="#ddeef8"/>
<circle cx="528.0" cy="762.6" r="3.3" fill="#ddeef8"/>
<circle cx="519.2" cy="766.1" r="3.3" fill="#ddeef8"/>
<circle cx="514.2" cy="766.4" r="3.3" fill="#ddeef8"/>
<circle cx="519.2" cy="770.8" r="3.3" fill="#ddeef8"/>
<circle cx="547.2" cy="759.1" r="3.3" fill="#ddeef8"/>
<circle cx="550.0" cy="765.7" r="3.3" fill="#ddeef8"/>
<circle cx="556.3" cy="770.4" r="3.3" fill="#ddeef8"/>
<circle cx="539.3" cy="769.9" r="3.3" fill="#ddeef8"/>
<circle cx="551.2" cy="773.9" r="3.3" fill="#ddeef8"/>
<circle cx="546.2" cy="773.3" r="3.3" fill="#ddeef8"/>
<circle cx="502.9" cy="775.8" r="3.3" fill="#ddeef8"/>
<circle cx="507.3" cy="780.8" r="3.3" fill="#ddeef8"/>
<circle cx="501.0" cy="786.5" r="3.3" fill="#ddeef8"/>
<circle cx="497.9" cy="783.9" r="3.3" fill="#ddeef8"/>
<circle cx="520.5" cy="781.4" r="3.3" fill="#ddeef8"/>
<circle cx="518.6" cy="789.6" r="3.3" fill="#ddeef8"/>
<circle cx="528.0" cy="773.9" r="3.3" fill="#ddeef8"/>
<circle cx="538.1" cy="781.4" r="3.3" fill="#ddeef8"/>
<circle cx="532.4" cy="777.3" r="3.3" fill="#ddeef8"/>
<circle cx="539.7" cy="776.7" r="3.3" fill="#ddeef8"/>
<circle cx="526.8" cy="779.5" r="3.3" fill="#ddeef8"/>
<circle cx="542.7" cy="780.8" r="3.3" fill="#ddeef8"/>
<circle cx="531.2" cy="783.3" r="3.3" fill="#ddeef8"/>
<circle cx="535.5" cy="785.4" r="3.3" fill="#ddeef8"/>
<circle cx="545.0" cy="784.9" r="3.3" fill="#ddeef8"/>
<circle cx="561.3" cy="780.8" r="3.3" fill="#ddeef8"/>
<circle cx="558.4" cy="786.5" r="3.3" fill="#ddeef8"/>
<circle cx="554.4" cy="790.2" r="3.3" fill="#ddeef8"/>
<circle cx="576.4" cy="775.2" r="3.3" fill="#ddeef8"/>
<circle cx="572.0" cy="776.4" r="3.3" fill="#ddeef8"/>
<circle cx="567.6" cy="777.7" r="3.3" fill="#ddeef8"/>
<circle cx="570.1" cy="789.6" r="3.3" fill="#3059a2"/>
<circle cx="570.1" cy="782.1" r="3.3" fill="#ddeef8"/>
<circle cx="573.5" cy="787.5" r="3.3" fill="#ddeef8"/>
<circle cx="580.1" cy="784.6" r="3.3" fill="#ddeef8"/>
<circle cx="564.4" cy="791.5" r="3.3" fill="#ddeef8"/>
<circle cx="567.9" cy="794.2" r="3.3" fill="#ddeef8"/>
<circle cx="559.2" cy="795.9" r="3.3" fill="#ddeef8"/>
<circle cx="550.4" cy="798.4" r="3.3" fill="#ddeef8"/>
<circle cx="562.2" cy="801.1" r="3.3" fill="#ddeef8"/>
<circle cx="568.4" cy="801.5" r="3.3" fill="#ddeef8"/>
<circle cx="574.8" cy="800.5" r="3.3" fill="#ddeef8"/>
<circle cx="550.4" cy="806.5" r="3.3" fill="#ddeef8"/>
<circle cx="561.3" cy="812.8" r="3.3" fill="#ddeef8"/>
<circle cx="509.8" cy="802.1" r="3.3" fill="#ddeef8"/>
<circle cx="507.9" cy="800.0" r="3.3" fill="#ddeef8"/>
<path d="M538.1 790.0l3.3 6.4h-6.6Z" fill="#ddeef8"/>
<path d="M546.8 797.8l3.3 6.4h-6.6Z" fill="#ddeef8"/>
<path d="M528.4 805.7l3.3 6.4h-6.6Z" fill="#ddeef8"/>
<path d="M557.5 797.8l3.3 6.4h-6.6Z" fill="#ddeef8"/>
<path d="M502.3 804.7l3.3 6.4h-6.6Z" fill="#ddeef8"/>
<path d="M505.4 801.6l3.3 6.4h-6.6Z" fill="#ddeef8"/>
<rect x="536.5" y="809.0" width="6.3" height="6.3" fill="#ddeef8"/>
<rect x="504.8" y="810.9" width="6.3" height="6.3" fill="#ddeef8"/>
<circle cx="600.8" cy="740.8" r="3.3" fill="#ddeef8"/>
<circle cx="598.5" cy="743.8" r="3.3" fill="#ddeef8"/>
<circle cx="605.3" cy="746.8" r="3.3" fill="#ddeef8"/>
<circle cx="611.3" cy="745.3" r="3.3" fill="#ddeef8"/>
<circle cx="614.3" cy="740.8" r="3.3" fill="#ddeef8"/>
<circle cx="620.3" cy="741.5" r="3.3" fill="#ddeef8"/>
<circle cx="627.1" cy="741.5" r="3.3" fill="#ddeef8"/>
<circle cx="625.6" cy="745.3" r="3.3" fill="#ddeef8"/>
<circle cx="614.3" cy="749.8" r="3.3" fill="#ddeef8"/>
<circle cx="620.6" cy="750.8" r="3.3" fill="#ddeef8"/>
<circle cx="627.4" cy="749.0" r="3.3" fill="#ddeef8"/>
<circle cx="617.6" cy="755.8" r="3.3" fill="#ddeef8"/>
<circle cx="624.6" cy="755.3" r="3.3" fill="#ddeef8"/>
<circle cx="612.1" cy="758.0" r="3.3" fill="#ddeef8"/>
<circle cx="610.1" cy="763.3" r="3.3" fill="#ddeef8"/>
<circle cx="616.9" cy="762.6" r="3.3" fill="#ddeef8"/>
<circle cx="623.4" cy="761.5" r="3.3" fill="#ddeef8"/>
<circle cx="630.4" cy="762.9" r="3.3" fill="#ddeef8"/>
<circle cx="638.5" cy="753.8" r="3.3" fill="#ddeef8"/>
<circle cx="594.5" cy="759.8" r="3.3" fill="#a5cfe1"/>
<circle cx="600.0" cy="761.1" r="3.3" fill="#ddeef8"/>
<circle cx="597.0" cy="764.1" r="3.3" fill="#ddeef8"/>
<circle cx="599.7" cy="766.8" r="3.3" fill="#ddeef8"/>
<circle cx="606.8" cy="769.6" r="3.3" fill="#ddeef8"/>
<circle cx="594.8" cy="772.3" r="3.3" fill="#ddeef8"/>
<circle cx="585.8" cy="768.1" r="3.3" fill="#ddeef8"/>
<circle cx="590.3" cy="773.1" r="3.3" fill="#ddeef8"/>
<circle cx="596.3" cy="776.8" r="3.3" fill="#ddeef8"/>
<circle cx="592.2" cy="779.8" r="3.3" fill="#ddeef8"/>
<circle cx="585.8" cy="780.3" r="3.3" fill="#a5cfe1"/>
<circle cx="586.2" cy="788.1" r="3.3" fill="#ddeef8"/>
<circle cx="592.5" cy="788.1" r="3.3" fill="#ddeef8"/>
<circle cx="582.0" cy="797.9" r="3.3" fill="#ddeef8"/>
<circle cx="501.6" cy="816.9" r="3.3" fill="#ddeef8"/>
<path d="M521.7 818.6l3.3 6.4h-6.6Z" fill="#ddeef8"/>
<path d="M529.3 813.2l3.3 6.4h-6.6Z" fill="#ddeef8"/>
<circle cx="536.2" cy="817.5" r="3.3" fill="#ddeef8"/>
<path d="M533.7 813.2l3.3 6.4h-6.6Z" fill="#ddeef8"/>
<path d="M552.1 815.1l3.3 6.4h-6.6Z" fill="#ddeef8"/>
<circle cx="563.8" cy="815.6" r="3.3" fill="#ddeef8"/>
<path d="M561.3 812.5l3.3 6.4h-6.6Z" fill="#ddeef8"/>
<path d="M572.0 815.1l3.3 6.4h-6.6Z" fill="#ddeef8"/>
<path d="M570.1 820.1l3.3 6.4h-6.6Z" fill="#ddeef8"/>
<circle cx="508.9" cy="826.3" r="3.3" fill="#ddeef8"/>
<circle cx="496.6" cy="826.9" r="3.3" fill="#ddeef8"/>
<circle cx="497.3" cy="831.9" r="3.3" fill="#ddeef8"/>
<rect x="510.4" y="828.2" width="6.3" height="6.3" fill="#ddeef8"/>
<rect x="508.2" y="833.2" width="6.3" height="6.3" fill="#ddeef8"/>
<path d="M519.0 830.7l3.3 6.4h-6.6Z" fill="#ddeef8"/>
<path d="M522.4 830.1l3.3 6.4h-6.6Z" fill="#ddeef8"/>
<circle cx="531.8" cy="832.6" r="3.3" fill="#ddeef8"/>
<circle cx="536.8" cy="833.2" r="3.3" fill="#ddeef8"/>
<path d="M536.2 827.0l3.3 6.4h-6.6Z" fill="#ddeef8"/>
<circle cx="543.7" cy="829.4" r="3.3" fill="#ddeef8"/>
<circle cx="551.2" cy="831.9" r="3.3" fill="#ddeef8"/>
<circle cx="548.7" cy="831.3" r="3.3" fill="#ddeef8"/>
<circle cx="559.8" cy="833.2" r="3.3" fill="#ddeef8"/>
<rect x="563.5" y="832.6" width="6.3" height="6.3" fill="#ddeef8"/>
<circle cx="575.7" cy="835.7" r="3.3" fill="#ddeef8"/>
<circle cx="548.1" cy="837.0" r="3.3" fill="#ddeef8"/>
<path d="M543.1 833.9l3.3 6.4h-6.6Z" fill="#ddeef8"/>
<path d="M550.6 836.4l3.3 6.4h-6.6Z" fill="#a5cfe1"/>
<circle cx="530.5" cy="838.9" r="3.3" fill="#ddeef8"/>
<circle cx="521.7" cy="840.1" r="3.3" fill="#ddeef8"/>
<path d="M526.1 838.3l3.3 6.4h-6.6Z" fill="#ddeef8"/>
<path d="M561.9 835.1l3.3 6.4h-6.6Z" fill="#ddeef8"/>
<rect x="556.6" y="840.1" width="6.3" height="6.3" fill="#ddeef8"/>
<rect x="566.3" y="844.2" width="6.3" height="6.3" fill="#ddeef8"/>
<path d="M499.1 837.0l3.3 6.4h-6.6Z" fill="#ddeef8"/>
<path d="M504.2 836.4l3.3 6.4h-6.6Z" fill="#ddeef8"/>
<rect x="533.0" y="839.7" width="6.3" height="6.3" fill="#ddeef8"/>
<rect x="543.4" y="841.7" width="6.3" height="6.3" fill="#ddeef8"/>
<circle cx="512.9" cy="846.4" r="3.3" fill="#ddeef8"/>
<rect x="519.6" y="843.5" width="6.3" height="6.3" fill="#ddeef8"/>
<circle cx="528.9" cy="846.4" r="3.3" fill="#ddeef8"/>
<rect x="497.9" y="845.1" width="6.3" height="6.3" fill="#ddeef8"/>
<path d="M505.4 845.8l3.3 6.4h-6.6Z" fill="#ddeef8"/>
<rect x="529.5" y="848.3" width="6.3" height="6.3" fill="#ddeef8"/>
<path d="M536.8 851.5l3.3 6.4h-6.6Z" fill="#ddeef8"/>
<rect x="554.0" y="850.8" width="6.3" height="6.3" fill="#ddeef8"/>
<circle cx="509.8" cy="854.5" r="3.3" fill="#ddeef8"/>
<path d="M499.8 856.2l3.3 6.4h-6.6Z" fill="#ddeef8"/>
<path d="M525.5 855.2l3.3 6.4h-6.6Z" fill="#ddeef8"/>
<rect x="541.8" y="858.1" width="6.3" height="6.3" fill="#ddeef8"/>
<rect x="512.3" y="858.3" width="6.3" height="6.3" fill="#ddeef8"/>
<rect x="514.2" y="864.0" width="6.3" height="6.3" fill="#ddeef8"/>
<rect x="510.1" y="862.4" width="6.3" height="6.3" fill="#ddeef8"/>
<rect x="531.1" y="866.5" width="6.3" height="6.3" fill="#ddeef8"/>
<rect x="535.2" y="868.3" width="6.3" height="6.3" fill="#ddeef8"/>
<rect x="495.1" y="869.9" width="6.3" height="6.3" fill="#ddeef8"/>
<rect x="520.2" y="879.0" width="6.3" height="6.3" fill="#ddeef8"/>
<rect x="361.0" y="880.8" width="6.3" height="6.3" fill="#ddeef8"/>
<rect x="348.7" y="891.0" width="6.3" height="6.3" fill="#ddeef8"/>
<path d="M349.5 899.5l3.3 6.4h-6.6Z" fill="#ddeef8"/>
<rect x="338.8" y="910.7" width="6.3" height="6.3" fill="#a5cfe1"/>
<rect x="378.6" y="895.9" width="6.3" height="6.3" fill="#ddeef8"/>
<rect x="371.1" y="900.4" width="6.3" height="6.3" fill="#ddeef8"/>
<path d="M376.1 906.4l3.3 6.4h-6.6Z" fill="#a5cfe1"/>
<rect x="370.4" y="913.2" width="6.3" height="6.3" fill="#ddeef8"/>
<rect x="377.0" y="913.2" width="6.3" height="6.3" fill="#0a1a35"/>
<rect x="391.8" y="901.9" width="6.3" height="6.3" fill="#ddeef8"/>
<rect x="385.5" y="905.7" width="6.3" height="6.3" fill="#ddeef8"/>
<rect x="387.4" y="902.6" width="6.3" height="6.3" fill="#a5cfe1"/>
<rect x="405.6" y="902.6" width="6.3" height="6.3" fill="#a5cfe1"/>
<rect x="354.5" y="918.3" width="6.3" height="6.3" fill="#ddeef8"/>
<rect x="349.1" y="930.2" width="6.3" height="6.3" fill="#ddeef8"/>
<rect x="328.1" y="933.7" width="6.3" height="6.3" fill="#ddeef8"/>
<rect x="341.2" y="948.6" width="6.3" height="6.3" fill="#ddeef8"/>
<rect x="348.5" y="950.9" width="6.3" height="6.3" fill="#ddeef8"/>
<path d="M293.2 912.9l3.3 6.4h-6.6Z" fill="#ddeef8"/>
<rect x="473.1" y="894.4" width="6.3" height="6.3" fill="#ddeef8"/>
<rect x="475.3" y="890.0" width="6.3" height="6.3" fill="#ddeef8"/>
<rect x="412.9" y="895.0" width="6.3" height="6.3" fill="#ddeef8"/>
<rect x="414.4" y="898.2" width="6.3" height="6.3" fill="#ddeef8"/>
<rect x="408.1" y="903.2" width="6.3" height="6.3" fill="#ddeef8"/>
<rect x="425.4" y="899.2" width="6.3" height="6.3" fill="#ddeef8"/>
<rect x="418.8" y="908.2" width="6.3" height="6.3" fill="#ddeef8"/>
<rect x="420.0" y="904.4" width="6.3" height="6.3" fill="#ddeef8"/>
<rect x="428.2" y="905.5" width="6.3" height="6.3" fill="#a5cfe1"/>
<rect x="442.0" y="900.1" width="6.3" height="6.3" fill="#ddeef8"/>
<rect x="436.6" y="899.8" width="6.3" height="6.3" fill="#ddeef8"/>
<rect x="447.0" y="896.9" width="6.3" height="6.3" fill="#ddeef8"/>
<rect x="455.2" y="898.5" width="6.3" height="6.3" fill="#ddeef8"/>
<rect x="462.7" y="899.4" width="6.3" height="6.3" fill="#ddeef8"/>
<rect x="458.3" y="899.4" width="6.3" height="6.3" fill="#ddeef8"/>
<rect x="479.4" y="902.9" width="6.3" height="6.3" fill="#ddeef8"/>
<rect x="487.0" y="898.2" width="6.3" height="6.3" fill="#ddeef8"/>
<rect x="488.2" y="903.2" width="6.3" height="6.3" fill="#ddeef8"/>
<rect x="516.1" y="890.4" width="6.3" height="6.3" fill="#ddeef8"/>
<rect x="514.4" y="899.8" width="6.3" height="6.3" fill="#ddeef8"/>
<rect x="506.7" y="901.9" width="6.3" height="6.3" fill="#ddeef8"/>
<rect x="504.1" y="902.2" width="6.3" height="6.3" fill="#ddeef8"/>
<rect x="507.7" y="908.8" width="6.3" height="6.3" fill="#ddeef8"/>
<rect x="509.2" y="914.2" width="6.3" height="6.3" fill="#ddeef8"/>
<rect x="518.3" y="909.7" width="6.3" height="6.3" fill="#ddeef8"/>
<rect x="520.7" y="914.2" width="6.3" height="6.3" fill="#ddeef8"/>
<rect x="514.8" y="923.9" width="6.3" height="6.3" fill="#ddeef8"/>
<rect x="517.3" y="919.5" width="6.3" height="6.3" fill="#ddeef8"/>
<rect x="504.8" y="923.9" width="6.3" height="6.3" fill="#ddeef8"/>
<rect x="502.9" y="929.6" width="6.3" height="6.3" fill="#ddeef8"/>
<rect x="510.7" y="928.3" width="6.3" height="6.3" fill="#ddeef8"/>
<rect x="524.9" y="925.2" width="6.3" height="6.3" fill="#ddeef8"/>
<rect x="526.7" y="929.6" width="6.3" height="6.3" fill="#ddeef8"/>
<rect x="528.4" y="935.2" width="6.3" height="6.3" fill="#ddeef8"/>
<rect x="505.4" y="936.7" width="6.3" height="6.3" fill="#ddeef8"/>
<rect x="517.3" y="937.3" width="6.3" height="6.3" fill="#ddeef8"/>
<rect x="529.6" y="943.4" width="6.3" height="6.3" fill="#ddeef8"/>
<rect x="513.6" y="948.4" width="6.3" height="6.3" fill="#ddeef8"/>
<rect x="511.4" y="945.0" width="6.3" height="6.3" fill="#ddeef8"/>
<rect x="529.3" y="949.6" width="6.3" height="6.3" fill="#ddeef8"/>
<rect x="529.3" y="955.3" width="6.3" height="6.3" fill="#ddeef8"/>
<circle cx="580.6" cy="760.3" r="3.3" fill="#ddeef8"/>
<circle cx="583.0" cy="772.5" r="3.3" fill="#ddeef8"/>
</g>
<rect x="66.5" y="600.8" width="614.1" height="376.5" fill="none" stroke="#444" stroke-width="1.5"/>
<g class="t"><text x="86.6" y="627.2" font-size="30" text-anchor="start" textLength="23.1" lengthAdjust="spacingAndGlyphs">b)</text></g>
<g class="t"><text x="66.1" y="1032.9" font-size="21" text-anchor="start" textLength="100.7" lengthAdjust="spacingAndGlyphs">Exceedance</text><text x="66.1" y="1062.1" font-size="21" text-anchor="start" textLength="37.8" lengthAdjust="spacingAndGlyphs">days</text></g>
<rect x="182.8" y="1018.3" width="95.30000000000001" height="24.700000000000045" fill="#ddeef8"/>
<rect x="278.1" y="1018.3" width="93.89999999999998" height="24.700000000000045" fill="#a5cfe1"/>
<rect x="372" y="1018.3" width="94.5" height="24.700000000000045" fill="#5a9bc9"/>
<rect x="466.5" y="1018.3" width="94.20000000000005" height="24.700000000000045" fill="#3059a2"/>
<rect x="560.7" y="1018.3" width="95.5" height="24.700000000000045" fill="#0a1a35"/>
<g fill="none" stroke="#101c48" stroke-width="1.1"><rect x="182.8" y="1018.3" width="473.40000000000003" height="24.700000000000045"/>
<line x1="278.1" y1="1018.3" x2="278.1" y2="1043"/>
<line x1="372" y1="1018.3" x2="372" y2="1043"/>
<line x1="466.5" y1="1018.3" x2="466.5" y2="1043"/>
<line x1="560.7" y1="1018.3" x2="560.7" y2="1043"/>
</g>
<g class="t">
<text x="186" y="1066.6" font-size="20.5" text-anchor="middle">0</text>
<text x="272.6" y="1066.6" font-size="20.5" text-anchor="middle">1</text>
<text x="367.3" y="1066.6" font-size="20.5" text-anchor="middle">2</text>
<text x="461.9" y="1066.6" font-size="20.5" text-anchor="middle">3</text>
<text x="558.1" y="1066.6" font-size="20.5" text-anchor="middle">4</text>
<text x="651.3" y="1066.6" font-size="20.5" text-anchor="middle">5</text>
</g>
<!-- legend -->
<circle cx="26.3" cy="1097.5" r="6.4" fill="#000"/>
<rect x="342.5" y="1091.3" width="12.8" height="12.6" fill="#000"/>
<path d="M26 1127L32.8 1138.7H19.3Z" fill="#000"/>
<g class="t">
<text x="55.7" y="1104" font-size="21.7" text-anchor="start" textLength="274.8" lengthAdjust="spacingAndGlyphs">Significant Positive Correlation</text>
<text x="378.1" y="1104.2" font-size="21.7" text-anchor="start" textLength="283.2" lengthAdjust="spacingAndGlyphs">Significant Negative Correlation</text>
<text x="57.6" y="1140.1" font-size="21.7" text-anchor="start" textLength="232" lengthAdjust="spacingAndGlyphs">No Significant Correlation</text>
</g>
</svg>
</body></html>
